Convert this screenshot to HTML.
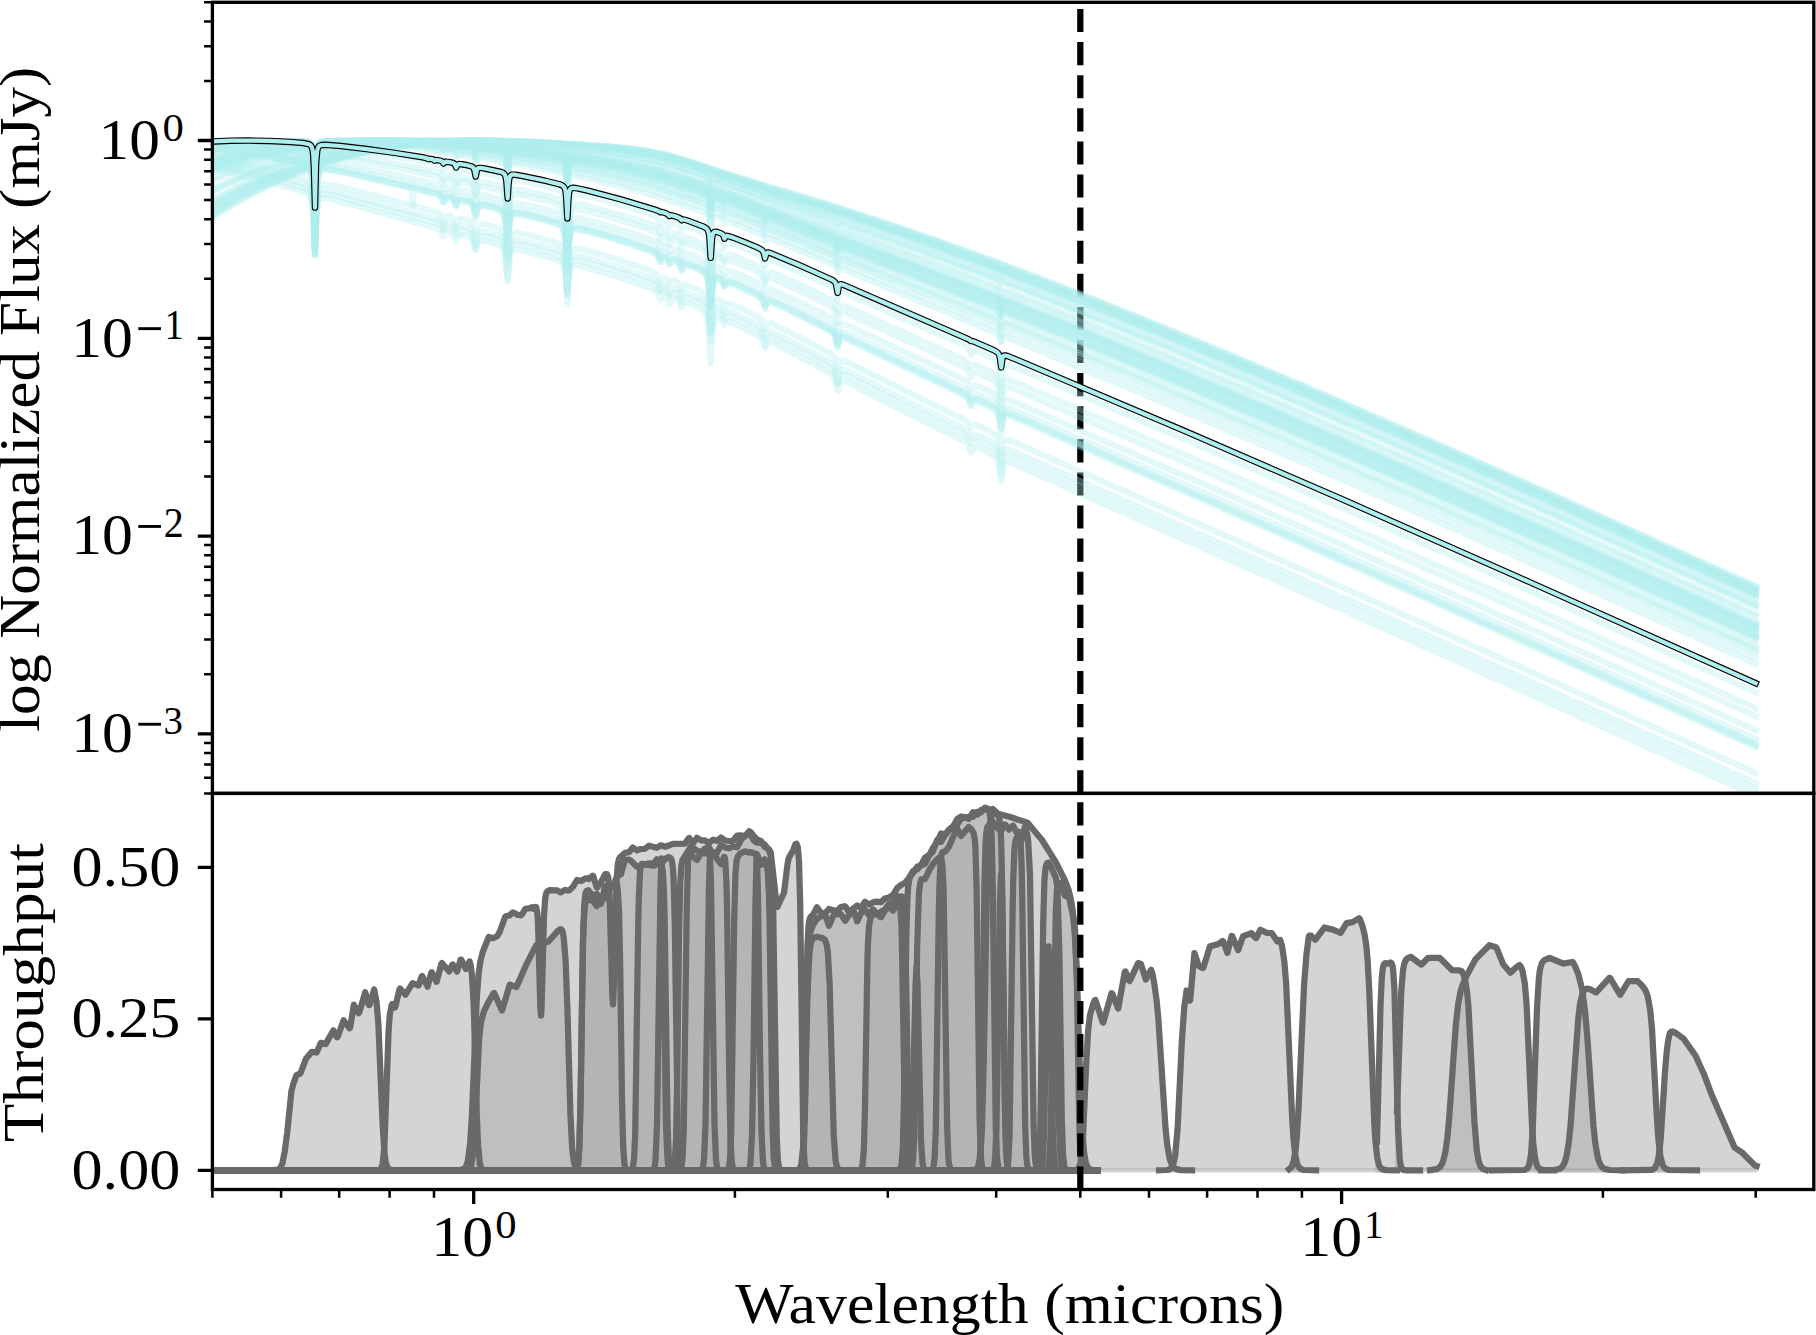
<!DOCTYPE html>
<html><head><meta charset="utf-8"><style>html,body{margin:0;padding:0;background:#fff;width:1816px;height:1335px;overflow:hidden}svg{display:block}</style></head><body>
<svg width="1816" height="1335" viewBox="0 0 1816 1335">
<rect width="1816" height="1335" fill="#fff"/>
<defs><clipPath id="ct"><rect x="212.4" y="2.3" width="1601.4" height="791.1"/></clipPath>
<clipPath id="cb"><rect x="212.4" y="793.4" width="1601.4" height="396.1"/></clipPath></defs>
<g clip-path="url(#ct)">
<path d="M1080.3 793.4V2.3" stroke="#000" stroke-width="6.25" stroke-dasharray="23.1 10" fill="none"/>
<g fill="none" stroke="#afeeee" stroke-opacity="0.35" stroke-width="6.25" stroke-linecap="square" stroke-linejoin="round">
<path d="M181.0 240.2 196.6 228.6 212.2 217.9 227.8 208.0 243.5 199.0 260.8 189.9 278.2 181.7 297.3 173.8 308.0 170.4 310.1 170.4 311.4 171.2 312.1 172.5 312.9 175.7 313.7 184.4 315.0 221.5 315.8 192.2 316.6 177.2 317.6 170.8 319.4 167.4 321.8 165.7 325.7 164.0 342.4 158.7 363.2 153.5 384.1 149.2 411.1 145.1 438.9 142.3 467.4 140.8 498.5 140.6 542.0 142.1 563.8 143.3 567.4 144.1 569.0 143.7 572.4 143.7 608.0 146.0 637.5 149.1 662.3 153.4 683.6 159.2 706.1 166.6 710.7 168.5 713.6 169.2 738.9 177.3 827.8 203.8 894.4 225.4 941.3 241.6 989.2 259.0 1041.9 278.8 1097.5 300.5 1160.0 325.6 1227.7 353.5 1298.9 383.5 1377.0 417.1 1550.6 493.6 1755.7 586.0"/>
<path d="M181.0 238.4 196.6 226.9 214.0 215.2 229.6 205.5 246.9 195.8 264.3 187.0 283.4 178.4 301.2 171.5 306.2 170.1 309.0 169.8 310.8 170.7 311.9 172.5 313.2 180.6 314.0 199.6 315.0 253.9 316.4 184.1 317.3 173.1 318.1 169.9 319.2 167.6 321.0 165.7 323.9 164.1 337.2 159.6 359.8 153.7 384.1 148.8 411.1 144.8 438.7 142.1 467.2 140.8 498.5 140.7 505.3 140.9 507.7 141.3 513.6 141.1 543.8 142.3 563.8 143.5 567.4 144.1 572.9 144.0 608.0 146.3 637.5 149.4 662.5 153.9 684.4 159.8 706.1 167.0 710.7 169.0 713.6 169.6 740.9 178.5 829.1 204.9 896.1 226.8 943.0 243.1 991.0 260.5 1043.7 280.4 1099.2 302.1 1161.7 327.2 1229.4 355.2 1300.6 385.2 1377.0 418.1 1550.6 494.6 1755.7 587.0"/>
<path d="M181.0 236.5 196.6 225.2 212.2 214.7 227.8 205.1 243.5 196.3 260.8 187.5 278.2 179.6 295.5 172.6 307.5 168.6 309.8 168.4 311.2 168.9 312.1 170.1 312.9 172.6 313.7 179.6 315.0 207.7 316.6 173.7 317.6 168.4 318.4 166.7 319.7 165.3 322.3 163.7 326.5 162.1 344.1 157.0 363.2 152.4 384.1 148.4 411.1 144.5 438.9 141.9 467.4 140.7 498.8 140.7 505.3 140.9 507.7 141.4 513.4 141.1 545.5 142.6 564.1 143.7 567.4 144.4 569.3 144.0 572.9 144.2 608.0 146.5 637.5 149.8 662.8 154.4 674.0 157.2 686.1 160.8 706.9 167.7 710.7 169.6 713.9 170.1 765.1 186.6 828.5 205.5 896.1 227.6 941.3 243.3 990.3 261.1 1001.2 265.6 1006.1 267.0 1043.7 281.3 1099.2 303.0 1161.7 328.2 1229.4 356.1 1300.6 386.2 1377.0 419.1 1550.6 495.6 1755.7 588.0"/>
<path d="M181.0 234.7 196.6 223.5 212.2 213.2 227.8 203.7 243.5 195.0 260.8 186.3 278.2 178.5 295.5 171.6 307.7 167.8 309.8 167.7 311.4 168.3 312.1 169.5 312.9 172.3 313.7 179.9 315.0 210.7 316.6 173.5 317.6 167.9 318.4 166.1 319.7 164.6 322.3 163.0 326.5 161.4 344.1 156.3 363.2 151.9 384.1 148.0 411.1 144.2 438.9 141.8 467.6 140.6 498.8 140.8 505.3 141.0 507.7 141.6 509.5 141.2 512.9 141.2 545.5 142.7 564.1 143.9 567.4 144.7 569.0 144.3 572.4 144.3 608.0 146.8 637.5 150.2 662.8 154.8 674.5 157.7 687.0 161.5 706.9 168.1 710.7 170.0 713.7 170.5 765.1 187.1 830.1 206.7 897.9 229.0 943.0 244.7 991.3 262.4 1001.2 266.4 1006.1 267.9 1043.7 282.2 1101.0 304.6 1163.5 329.8 1231.2 357.8 1302.3 387.9 1378.7 420.8 1550.6 496.6 1755.7 589.0"/>
<path d="M181.0 232.8 196.6 221.8 212.2 211.6 227.8 202.3 245.2 192.9 262.6 184.4 281.6 176.1 299.6 169.3 305.1 167.7 308.5 167.1 310.3 167.4 311.6 168.6 312.7 171.9 313.2 175.8 314.0 190.8 315.0 229.3 316.4 178.4 317.3 169.4 318.1 166.7 319.4 164.5 321.5 162.8 325.0 161.3 340.7 156.6 361.5 151.8 384.1 147.6 411.1 143.9 438.7 141.6 467.2 140.6 498.8 140.8 505.3 141.1 507.7 141.8 509.2 141.3 512.5 141.3 545.5 142.9 564.1 144.1 567.4 144.8 569.0 144.5 572.4 144.5 606.3 147.0 635.8 150.3 649.8 152.6 663.1 155.3 675.1 158.3 688.1 162.2 707.1 168.6 710.7 170.4 713.7 170.9 765.1 187.7 831.4 207.9 899.6 230.4 944.7 246.2 992.3 263.6 1045.4 283.8 1101.0 305.5 1163.5 330.8 1231.2 358.8 1302.3 388.9 1378.7 421.8 1550.6 497.6 1755.7 590.0"/>
<path d="M181.0 231.1 196.6 220.1 212.2 210.1 227.8 200.9 245.2 191.6 262.6 183.3 279.9 175.8 298.3 168.9 308.2 166.2 310.3 166.3 311.6 167.4 312.7 170.2 313.2 173.6 314.0 186.3 315.0 217.5 315.8 188.3 316.6 173.3 317.6 166.9 319.4 163.5 321.6 162.0 325.2 160.5 340.7 156.0 361.5 151.2 384.1 147.2 411.1 143.7 438.8 141.5 467.1 140.6 498.6 140.9 505.3 141.2 507.7 142.2 509.0 141.5 511.0 141.4 529.9 142.2 563.3 144.2 565.6 144.6 567.4 145.6 569.0 144.8 571.9 144.8 606.3 147.3 635.8 150.7 649.8 153.0 663.4 155.8 675.6 158.9 689.1 163.0 707.2 169.1 710.7 171.0 713.9 171.4 765.1 188.5 770.3 189.8 831.1 208.5 901.3 231.8 946.5 247.7 992.6 264.6 1001.2 268.2 1006.4 269.8 1045.4 284.7 1102.7 307.2 1165.2 332.4 1232.9 360.5 1304.1 390.6 1380.4 423.5 1552.3 499.3 1755.7 591.0"/>
<path d="M181.0 229.3 196.6 218.5 212.2 208.6 227.8 199.5 245.2 190.4 262.6 182.1 279.9 174.8 298.3 168.0 308.2 165.4 310.3 165.6 311.6 166.6 312.7 169.4 313.2 172.8 314.0 185.6 315.0 216.7 315.8 187.5 316.6 172.5 317.6 166.2 319.4 162.8 321.6 161.3 325.2 159.8 340.7 155.4 361.5 150.8 384.1 146.8 411.1 143.4 438.8 141.4 467.1 140.6 475.7 140.9 479.9 140.6 499.1 141.0 505.3 141.3 507.7 142.2 509.5 141.5 513.9 141.6 560.7 144.2 565.4 144.7 567.4 145.9 569.0 145.0 571.9 145.0 606.3 147.6 637.5 151.4 663.6 156.3 676.1 159.5 690.2 163.8 707.4 169.6 709.3 170.5 710.7 171.9 712.3 171.5 714.7 172.1 765.1 189.0 824.1 207.1 834.8 210.5 837.7 211.9 840.0 212.2 847.8 214.6 901.3 232.6 944.7 247.9 991.6 265.1 998.8 267.9 1001.2 269.4 1004.3 269.9 1021.1 276.2 1102.7 308.1 1165.2 333.4 1232.9 361.4 1304.1 391.6 1380.4 424.5 1552.3 500.3 1755.7 592.0"/>
<path d="M181.0 227.5 196.6 216.9 214.0 206.1 229.6 197.2 246.9 188.3 264.3 180.3 283.4 172.5 301.2 166.3 306.2 165.1 309.0 164.9 310.8 165.8 311.9 167.6 313.2 175.6 314.0 194.1 315.0 246.0 316.4 179.1 317.3 168.3 318.1 165.2 319.2 163.0 321.0 161.2 323.9 159.7 337.2 155.7 359.8 150.6 384.1 146.5 411.1 143.2 438.8 141.3 467.4 140.6 499.3 141.1 505.3 141.4 507.7 142.2 509.2 141.7 512.6 141.6 550.0 143.7 564.3 144.8 565.9 145.1 567.4 146.0 569.0 145.3 571.9 145.2 606.3 147.9 637.5 151.8 663.6 156.8 676.6 160.1 690.9 164.5 707.4 170.1 710.7 172.0 712.3 171.9 714.2 172.4 765.1 189.7 821.5 207.0 834.5 211.2 837.7 212.6 839.7 212.9 844.7 214.4 903.1 234.0 946.5 249.4 991.6 266.0 998.8 268.8 1001.2 270.4 1004.1 270.7 1017.1 275.6 1104.4 309.7 1166.9 335.0 1232.9 362.4 1304.1 392.6 1380.4 425.5 1552.3 501.3 1755.7 593.0"/>
<path d="M181.0 225.8 196.6 215.3 212.2 205.7 227.8 196.9 245.2 188.0 262.6 180.0 281.6 172.2 300.2 165.8 305.6 164.4 308.8 164.0 310.6 164.6 311.9 166.5 313.2 173.9 314.0 190.9 315.0 236.5 316.4 177.1 317.3 167.1 318.1 164.2 319.2 162.1 321.0 160.4 324.1 158.9 337.2 155.1 359.8 150.2 384.1 146.1 410.8 143.0 438.6 141.2 466.9 140.5 473.4 140.6 475.7 141.0 479.9 140.7 498.5 141.2 505.3 141.6 507.7 143.2 509.5 141.9 512.9 141.8 561.7 144.7 565.4 145.3 567.4 147.3 569.0 145.7 571.5 145.5 606.3 148.2 637.5 152.2 663.9 157.3 676.9 160.7 692.0 165.2 707.6 170.6 709.3 171.4 710.7 172.7 712.3 172.4 714.7 173.0 724.5 176.7 762.0 189.0 765.1 190.4 769.3 191.3 829.6 210.3 835.4 212.3 837.7 213.6 839.7 213.7 846.5 215.8 904.8 235.4 948.2 250.9 992.9 267.3 998.8 269.7 1001.2 271.0 1004.8 271.9 1028.1 280.7 1104.4 310.6 1166.9 336.0 1232.9 363.4 1304.1 393.6 1380.4 426.5 1552.3 502.3 1755.7 594.0"/>
<path d="M181.0 224.1 196.6 213.8 214.0 203.2 229.6 194.6 246.9 186.0 266.0 177.5 285.1 170.1 302.2 164.5 306.7 163.5 309.3 163.5 310.8 164.5 311.9 166.4 313.2 175.0 314.0 195.1 315.0 253.9 316.3 180.2 317.3 167.4 318.1 164.1 319.2 161.8 321.0 159.9 323.9 158.4 337.2 154.5 359.8 149.7 384.1 145.8 410.8 142.8 438.3 141.1 466.3 140.6 473.2 140.7 475.7 141.3 479.4 140.7 498.3 141.2 505.3 141.8 507.7 143.7 509.2 142.2 512.6 141.9 561.7 145.0 565.4 145.6 567.4 147.7 569.0 146.0 571.5 145.7 604.5 148.4 635.8 152.3 650.3 154.8 664.1 157.8 677.4 161.2 693.0 166.0 707.7 171.1 709.3 171.9 710.7 173.4 712.4 173.0 715.0 173.6 724.5 177.2 727.5 178.0 761.7 189.5 765.1 191.1 769.0 191.9 828.8 210.8 835.3 213.0 837.7 214.5 839.7 214.4 846.0 216.4 906.6 236.9 980.7 263.7 997.8 270.1 1001.2 272.1 1003.3 272.3 1009.5 274.5 1106.2 312.3 1168.7 337.6 1234.6 365.1 1305.8 395.3 1382.2 428.3 1552.3 503.3 1755.7 595.0"/>
<path d="M181.0 220.8 196.6 210.7 214.0 200.5 229.6 192.1 246.9 183.7 266.0 175.5 285.1 168.3 301.7 163.1 306.2 162.1 309.0 162.0 310.8 162.9 311.9 164.8 313.2 173.1 314.0 192.2 315.0 246.7 316.4 176.8 317.3 165.8 318.1 162.6 319.2 160.3 321.0 158.5 323.9 157.1 337.2 153.4 359.8 148.8 384.1 145.1 411.1 142.4 438.6 140.9 452.7 140.6 456.1 141.0 458.7 140.6 466.4 140.6 473.4 140.8 475.7 141.7 477.3 141.0 479.4 140.8 499.3 141.5 505.3 142.0 507.7 143.5 509.5 142.3 512.9 142.2 562.0 145.5 565.6 146.2 567.4 148.2 569.0 146.5 571.5 146.2 604.5 149.0 635.8 153.1 650.3 155.7 664.4 158.8 677.9 162.3 694.8 167.6 707.9 172.2 709.4 173.2 710.7 174.8 712.6 174.0 715.5 174.7 724.5 178.2 761.5 190.6 765.1 192.5 766.7 192.5 769.0 193.1 827.5 211.9 835.0 214.5 837.7 216.3 839.5 216.0 844.4 217.4 908.3 239.1 949.9 254.1 993.1 270.1 998.8 272.5 1001.2 274.6 1002.2 274.1 1003.5 274.2 1011.6 277.1 1107.9 314.8 1170.4 340.3 1236.4 367.7 1383.9 431.0 1554.0 506.1 1755.7 597.0"/>
<path d="M181.0 219.1 196.6 209.2 214.0 199.1 229.6 190.9 246.9 182.6 266.0 174.5 285.1 167.5 302.2 162.2 306.7 161.3 309.3 161.4 310.8 162.4 311.9 164.4 313.2 173.3 314.0 194.0 315.0 255.8 316.0 186.2 317.1 167.5 318.1 162.1 319.8 159.0 322.8 157.0 328.8 155.0 342.4 151.7 359.8 148.4 377.1 145.7 394.5 143.6 412.9 142.1 431.0 141.1 466.6 140.6 473.4 140.8 475.7 141.5 477.3 141.0 479.9 140.9 502.7 141.8 505.8 142.3 507.7 143.7 509.2 142.5 512.5 142.3 558.6 145.4 565.1 146.3 566.1 147.0 567.4 148.9 568.7 147.1 570.8 146.5 594.1 148.3 614.9 150.6 632.3 153.0 648.8 155.9 664.4 159.3 685.4 165.1 704.6 171.4 708.7 173.2 710.7 176.1 712.6 174.7 715.9 175.4 722.2 177.6 724.4 178.8 727.8 179.5 760.7 190.9 765.1 192.9 768.7 193.6 830.9 213.7 835.6 215.5 837.7 217.0 840.0 216.8 847.3 219.1 910.0 240.6 993.6 271.2 999.1 273.5 1001.2 275.5 1002.2 275.0 1003.5 275.1 1012.1 278.2 1107.9 315.8 1170.4 341.2 1236.4 368.7 1383.9 432.0 1554.0 507.1 1755.7 598.0"/>
<path d="M181.0 209.7 196.6 200.6 214.0 191.3 229.6 183.8 246.9 176.3 266.0 169.0 285.1 162.7 302.0 158.1 306.4 157.3 309.0 157.4 310.8 158.4 311.9 160.3 313.2 168.7 314.0 188.0 315.0 243.4 316.0 180.9 316.6 169.1 317.3 161.5 318.7 157.0 320.5 154.8 323.9 153.1 329.8 151.4 344.1 148.6 359.8 146.1 377.1 143.9 394.5 142.3 412.9 141.2 431.0 140.7 440.8 140.6 443.5 141.0 445.8 140.6 451.9 140.6 456.1 141.2 458.6 140.8 466.4 140.9 473.4 141.4 475.7 142.9 477.3 141.7 479.5 141.5 503.2 142.8 505.8 143.8 507.7 147.4 508.7 144.8 509.5 143.9 510.8 143.5 513.4 143.4 562.8 147.4 565.6 148.4 567.4 151.5 568.7 149.0 570.8 148.2 592.4 150.1 613.2 152.7 630.6 155.3 648.0 158.5 664.7 162.3 678.1 165.9 699.6 172.6 708.2 175.9 709.4 177.0 710.7 179.3 711.9 178.0 712.6 177.7 716.5 178.5 722.2 180.6 724.4 181.8 728.2 182.7 760.9 194.6 763.3 195.5 765.1 196.8 766.7 196.7 769.0 197.4 832.7 219.0 835.8 220.4 837.7 222.5 839.5 221.6 843.6 222.6 917.0 248.1 994.4 276.8 999.1 278.9 1001.2 280.9 1002.5 280.4 1003.8 280.6 1014.7 284.6 1113.1 323.5 1175.6 349.1 1241.6 376.7 1387.4 439.5 1555.8 513.9 1755.7 604.0"/>
<path d="M181.0 208.2 196.6 199.2 214.0 190.1 229.6 182.7 246.9 175.3 266.0 168.1 286.9 161.4 302.8 157.3 306.7 156.7 309.3 156.9 310.8 157.9 311.9 159.9 313.2 168.6 314.0 188.6 315.0 247.3 316.0 181.2 317.1 163.0 318.1 157.9 319.8 154.9 322.8 153.0 328.5 151.3 342.4 148.5 358.0 146.0 375.4 143.9 392.7 142.3 424.5 140.7 451.0 140.6 454.4 140.8 456.1 141.4 458.7 140.8 466.9 141.0 473.4 141.4 475.7 142.4 477.3 141.7 479.6 141.6 503.2 142.9 505.8 143.5 507.7 145.5 509.2 143.8 512.5 143.5 560.9 147.5 563.8 148.0 565.4 148.8 566.1 150.0 567.4 153.8 568.7 149.9 569.5 149.1 570.8 148.7 576.3 148.9 592.4 150.5 613.2 153.1 630.6 155.7 648.3 159.0 664.9 162.8 686.8 169.0 705.6 175.3 708.9 177.1 710.7 180.7 711.9 178.9 712.6 178.4 716.6 179.1 722.2 181.2 724.4 182.7 726.1 182.7 728.4 183.4 760.9 195.2 763.3 196.3 765.1 198.0 766.9 197.5 770.3 198.5 833.0 219.8 835.8 221.0 837.7 222.7 839.5 222.2 844.4 223.7 918.7 249.6 994.9 277.9 999.1 279.8 1001.2 282.1 1002.5 281.4 1003.8 281.5 1016.0 286.0 1114.9 325.2 1175.6 350.1 1241.6 377.7 1387.4 440.5 1555.8 514.9 1755.7 605.0"/>
<path d="M181.0 205.3 196.6 196.5 212.2 188.5 227.8 181.2 245.2 174.0 262.6 167.6 281.6 161.5 300.2 156.5 305.6 155.5 308.8 155.3 310.6 155.9 311.9 157.6 313.2 164.3 314.0 179.1 315.0 216.9 316.4 167.2 317.3 158.4 318.1 155.8 319.4 153.8 321.5 152.3 324.6 151.2 338.9 148.2 359.8 145.1 382.3 142.7 414.5 140.9 438.6 140.6 443.5 141.0 448.3 140.7 453.9 140.9 456.1 141.4 459.5 141.0 471.9 141.5 474.2 142.1 475.7 143.7 477.3 142.1 479.4 141.8 502.2 143.2 505.8 144.2 507.7 147.1 509.0 144.7 510.3 144.0 519.9 144.4 563.0 148.3 565.6 149.5 567.4 153.4 569.0 149.9 570.0 149.3 571.5 149.2 585.4 150.4 608.0 153.2 637.5 157.9 664.9 163.9 687.0 170.1 705.9 176.5 707.9 177.5 709.0 178.7 710.7 183.7 711.9 180.7 712.6 179.8 714.1 179.6 717.1 180.4 722.3 182.3 724.4 183.7 726.1 183.7 728.4 184.4 760.7 196.3 763.3 197.4 765.1 199.1 766.7 198.7 769.3 199.3 832.7 221.3 835.8 222.7 837.7 224.7 839.5 223.9 843.9 225.1 922.2 252.6 995.5 280.0 999.1 281.7 1001.2 284.4 1002.2 283.4 1003.3 283.2 1008.5 284.9 1059.3 304.8 1116.6 327.8 1177.3 352.7 1243.3 380.4 1389.1 443.2 1557.5 517.7 1755.7 607.0"/>
<path d="M181.0 195.7 196.6 187.7 212.2 180.6 227.8 174.1 245.2 167.7 262.6 162.0 281.6 156.7 300.4 152.5 305.6 151.7 308.8 151.6 310.6 152.3 311.9 154.1 313.2 160.9 314.0 175.8 315.0 213.9 316.4 163.9 317.3 155.1 318.1 152.6 319.2 150.8 321.0 149.4 323.6 148.4 335.5 146.2 358.0 143.4 380.6 141.6 413.7 140.6 431.3 140.7 434.7 141.1 439.1 140.9 443.5 141.4 448.8 141.2 454.0 141.5 456.1 142.5 457.5 141.8 459.3 141.7 472.1 142.5 474.2 143.2 475.7 145.1 476.8 143.7 478.1 143.0 486.7 143.3 500.1 144.4 504.5 145.2 506.1 146.4 507.7 150.6 509.0 146.8 510.5 145.7 514.2 145.6 524.7 146.5 553.1 149.3 563.3 150.7 565.6 152.0 567.4 156.8 568.5 153.4 569.8 151.8 572.1 151.6 577.9 152.1 602.8 155.3 625.3 158.9 645.9 163.0 665.2 167.6 669.6 169.2 671.9 169.5 678.2 171.2 681.8 172.8 687.8 174.1 705.9 180.3 709.0 182.2 710.7 186.2 711.9 184.0 712.8 183.3 717.5 184.3 722.5 186.3 724.4 187.8 726.1 187.7 728.7 188.4 760.4 200.3 763.3 201.7 765.1 203.5 766.7 203.0 769.3 203.7 832.7 226.6 835.8 228.1 837.7 230.4 839.5 229.3 843.6 230.5 930.9 261.8 996.0 286.5 999.4 288.5 1001.2 291.7 1002.2 290.2 1003.0 289.8 1008.0 291.1 1061.0 312.0 1121.8 336.5 1248.5 389.5 1392.6 451.7 1559.2 525.5 1755.7 614.0"/>
<path d="M181.0 193.1 196.6 185.4 214.0 177.7 229.6 171.5 246.9 165.4 266.0 159.6 285.1 154.7 302.0 151.2 306.4 150.7 309.0 151.0 310.8 152.1 311.9 154.0 313.2 162.3 314.0 180.9 315.0 233.5 316.0 174.2 316.6 162.8 317.3 155.5 318.4 151.7 320.2 149.3 323.1 147.9 328.3 146.7 340.7 144.8 358.0 143.0 375.4 141.7 392.7 140.9 423.8 140.6 432.2 140.8 434.5 141.3 440.2 141.1 443.5 141.8 445.8 141.3 451.9 141.5 454.6 141.9 456.1 142.9 458.6 142.0 466.7 142.3 473.4 143.1 474.3 143.6 475.7 145.3 477.3 143.6 479.4 143.3 503.5 145.3 505.8 146.6 507.7 151.3 509.2 147.0 510.3 146.3 512.1 146.1 535.1 148.0 561.2 151.0 564.1 151.7 565.4 152.8 566.1 154.4 567.4 159.8 568.7 154.2 569.5 153.0 570.6 152.5 575.0 152.5 588.9 154.2 609.7 157.2 628.8 160.5 647.5 164.4 665.2 168.7 669.4 170.3 673.5 171.0 679.4 172.8 681.8 173.8 689.1 175.7 706.4 181.8 708.1 183.0 709.2 184.6 710.7 191.5 711.9 186.7 712.9 185.0 714.9 184.8 719.3 186.2 722.7 187.6 724.4 189.2 726.1 188.9 728.7 189.6 760.7 201.7 763.3 203.1 765.1 205.7 766.7 204.4 769.4 205.0 832.4 228.1 835.8 230.0 837.7 233.3 838.7 231.6 839.5 231.2 844.2 232.2 903.1 253.3 958.8 274.0 997.0 288.8 999.4 290.4 1001.2 293.9 1002.2 292.1 1003.0 291.7 1008.0 293.0 1061.0 313.9 1123.5 339.2 1250.2 392.2 1394.3 454.5 1559.2 527.5 1755.7 616.0"/>
<path d="M181.0 185.8 196.6 178.8 214.0 171.8 231.3 165.7 248.7 160.3 269.5 154.8 288.6 150.7 303.5 148.4 307.2 148.3 309.4 148.8 311.1 150.4 312.1 153.3 312.9 158.3 313.4 166.5 315.0 253.2 315.8 188.3 316.8 158.9 317.6 152.8 318.9 148.9 321.0 146.8 324.9 145.4 335.5 143.8 352.8 142.2 370.2 141.2 389.3 140.6 413.6 140.7 438.4 141.6 441.7 141.9 443.5 142.4 446.1 142.0 453.1 142.5 454.8 142.9 456.1 143.9 458.6 142.9 466.7 143.3 473.4 144.2 475.7 146.1 477.3 144.7 479.4 144.5 503.5 146.8 505.8 148.1 507.7 152.8 509.2 148.5 510.3 147.8 512.1 147.6 533.3 149.7 560.9 153.1 563.8 153.7 565.4 154.6 566.1 155.9 567.4 160.0 568.7 155.9 570.3 154.7 574.5 154.8 587.2 156.5 608.0 159.7 628.8 163.6 647.5 167.6 665.1 172.1 669.6 173.9 671.9 174.0 678.4 175.9 681.8 177.5 683.9 177.6 688.6 179.0 706.1 185.1 708.0 186.1 709.0 187.2 710.7 192.5 711.9 189.3 712.8 188.2 714.5 188.1 718.0 189.2 722.5 191.0 724.4 192.9 726.1 192.4 728.7 193.1 760.4 205.3 763.3 206.9 765.1 209.6 766.7 208.2 769.5 208.8 832.4 232.6 835.8 234.3 837.7 236.9 838.7 235.8 839.5 235.6 843.4 236.6 941.3 272.8 996.5 294.2 999.4 296.3 1001.2 301.3 1002.2 298.4 1003.0 297.5 1004.6 297.5 1007.7 298.4 1062.8 320.2 1130.5 347.8 1255.5 400.3 1397.8 462.0 1562.7 535.1 1755.7 622.0"/>
<path d="M181.0 184.6 196.6 177.7 214.0 170.9 229.6 165.4 246.9 160.1 266.0 155.1 285.1 150.9 302.0 148.1 306.4 147.7 309.0 147.9 310.8 148.9 311.9 150.7 313.2 157.9 314.0 173.9 315.0 215.7 316.4 161.3 317.3 152.0 318.1 149.4 319.2 147.6 321.0 146.2 323.6 145.3 335.5 143.5 358.0 141.7 380.6 140.7 409.3 140.7 424.5 141.1 428.2 141.6 431.4 141.4 434.7 141.9 438.4 141.7 441.7 142.0 443.5 142.8 446.1 142.2 453.1 142.7 454.8 143.3 456.1 144.6 457.4 143.5 458.5 143.2 464.8 143.4 473.2 144.5 474.3 145.4 475.7 148.0 477.0 145.5 478.6 144.8 492.1 145.7 501.4 146.7 504.8 147.5 506.1 148.7 507.7 152.9 509.0 149.1 509.7 148.3 510.8 148.0 515.7 148.1 531.6 149.8 556.2 152.8 563.5 154.1 565.1 155.1 565.9 156.4 567.4 162.8 568.5 157.8 569.5 155.7 571.3 155.1 574.7 155.2 597.6 158.5 621.9 162.7 644.4 167.4 665.4 172.7 669.4 174.3 673.3 174.9 679.4 176.8 681.8 177.9 688.8 179.7 706.1 185.7 708.0 186.8 709.0 188.0 710.7 194.2 712.1 189.7 712.8 189.0 713.9 188.7 716.8 189.4 721.7 191.2 723.1 192.1 724.5 193.7 726.4 193.1 731.3 194.6 761.2 206.2 763.5 207.5 765.1 209.3 766.7 208.6 769.4 209.4 832.4 233.4 835.8 235.3 837.7 238.7 838.7 237.0 839.5 236.6 842.9 237.2 930.9 269.7 996.0 294.8 999.4 296.6 1001.2 299.6 1002.2 298.3 1003.3 298.0 1008.5 299.6 1066.3 322.5 1132.2 349.5 1257.2 402.0 1399.5 463.7 1562.7 536.1 1755.7 623.0"/>
<path d="M181.0 182.4 196.6 175.7 214.0 169.1 229.6 163.9 246.9 158.7 266.0 153.9 285.1 150.0 302.0 147.3 306.4 147.0 309.0 147.3 310.8 148.4 311.9 150.2 313.2 158.0 314.0 175.2 315.0 221.5 316.0 169.0 316.6 158.5 317.3 151.8 318.4 148.3 320.2 146.1 323.3 144.8 328.8 143.8 344.1 142.3 361.5 141.2 380.6 140.6 399.7 140.6 423.3 141.2 428.2 141.7 432.2 141.7 434.7 142.2 438.4 142.0 441.7 142.3 443.5 142.9 445.6 142.5 450.0 142.7 454.2 143.3 456.1 145.0 457.5 143.8 458.8 143.5 469.0 144.2 473.6 145.2 475.7 148.5 476.8 146.4 478.1 145.4 485.6 145.6 499.8 147.1 504.3 148.2 505.3 149.0 506.1 150.5 507.7 158.2 508.7 152.1 510.0 149.3 512.5 148.7 519.1 149.1 549.0 152.6 563.0 154.7 564.6 155.3 565.6 156.3 567.4 162.0 568.5 157.9 569.5 156.3 571.5 155.8 575.8 156.2 599.3 159.7 623.6 164.1 645.1 168.7 665.6 174.0 669.6 175.4 671.9 175.8 678.4 177.7 681.8 179.3 683.9 179.4 689.4 181.0 706.1 186.9 708.0 188.0 709.0 189.2 710.7 195.5 712.1 190.9 712.8 190.2 713.9 190.0 721.4 192.3 724.5 194.4 726.4 194.2 730.8 195.7 761.2 207.5 763.5 209.0 765.1 211.3 766.7 210.1 769.5 210.7 832.2 234.8 834.5 236.0 835.8 237.1 837.7 241.2 839.2 238.4 840.3 238.2 842.3 238.7 911.8 264.3 995.5 296.4 999.1 298.4 1001.2 302.3 1002.2 300.5 1003.3 299.9 1008.2 301.4 1066.3 324.4 1133.9 352.1 1258.9 404.8 1401.3 466.5 1564.4 538.9 1755.7 625.0"/>
<path d="M181.0 181.3 196.6 174.7 214.0 168.2 229.6 163.1 246.9 158.1 264.3 153.8 283.4 149.8 300.9 147.0 305.9 146.6 308.8 146.8 310.6 147.6 311.9 149.5 313.2 156.6 314.0 172.1 315.0 212.0 316.4 159.9 317.3 150.9 318.1 148.3 319.4 146.3 321.3 145.2 324.4 144.3 337.2 142.7 359.8 141.2 384.1 140.6 411.1 140.9 424.9 141.4 428.2 141.9 431.5 141.8 434.7 142.4 438.4 142.2 441.7 142.5 443.5 143.4 445.1 142.8 447.4 142.7 453.9 143.3 456.1 144.4 457.5 143.7 459.1 143.6 471.3 144.6 473.9 145.3 475.7 147.2 477.0 145.8 479.1 145.4 499.6 147.4 503.5 148.1 505.3 149.1 506.4 151.3 507.7 157.1 509.2 150.4 510.0 149.5 511.6 149.0 519.5 149.4 545.5 152.5 559.6 154.4 564.1 155.6 565.1 156.4 565.9 157.8 567.4 164.8 568.5 159.3 569.5 157.1 571.3 156.3 575.5 156.6 601.0 160.4 627.1 165.3 656.0 172.0 666.7 174.9 669.6 176.4 671.2 176.3 674.2 177.0 679.5 178.6 681.8 179.9 684.7 180.2 696.4 184.0 706.9 188.1 708.2 189.2 709.2 191.1 710.7 199.7 711.9 193.5 712.9 191.3 715.0 190.9 719.8 192.3 722.7 193.5 724.4 194.9 726.2 194.8 729.2 195.7 760.7 208.0 763.3 209.6 765.1 212.8 766.1 211.3 766.9 210.9 770.6 211.8 833.0 235.9 835.8 237.4 837.7 240.1 838.7 239.0 839.5 238.7 843.1 239.6 946.5 278.3 996.5 297.8 999.4 299.8 1001.2 304.0 1002.2 301.7 1003.3 301.0 1008.2 302.3 1069.7 326.8 1142.6 356.7 1265.9 408.7 1406.5 469.8 1567.9 541.4 1755.7 626.0"/>
<path d="M181.0 180.2 196.6 173.8 214.0 167.4 229.6 162.3 246.9 157.4 266.0 152.8 285.1 149.1 302.0 146.6 306.4 146.3 309.0 146.6 310.8 147.8 311.9 149.6 313.2 157.4 314.0 174.8 315.0 221.9 316.0 168.7 316.6 158.1 317.3 151.3 318.4 147.8 320.2 145.6 323.3 144.3 329.1 143.3 344.1 142.0 363.2 141.0 382.3 140.6 401.4 140.7 424.4 141.5 428.2 142.0 432.2 142.0 434.7 142.6 438.8 142.3 441.8 142.6 443.5 143.4 445.4 142.9 449.3 143.0 454.2 143.6 456.1 144.6 458.8 143.8 468.9 144.6 473.6 145.6 475.7 148.6 477.0 146.4 478.3 145.8 488.7 146.4 500.6 147.8 504.5 148.6 506.1 150.1 507.7 155.1 509.2 150.2 510.3 149.4 511.8 149.1 523.5 150.2 552.9 153.8 561.5 155.1 564.6 156.1 565.9 157.6 567.4 163.2 568.5 158.9 569.8 157.0 572.1 156.7 577.3 157.2 604.5 161.5 628.8 166.2 651.4 171.4 666.0 175.2 669.6 176.6 673.7 177.4 679.5 179.2 681.8 180.3 684.7 180.8 694.3 183.9 706.7 188.4 708.2 189.5 709.2 191.0 710.7 197.4 712.1 192.4 712.8 191.5 713.9 191.2 716.6 191.8 721.5 193.6 723.1 194.4 724.5 195.9 726.4 195.5 731.3 197.1 761.2 208.8 763.5 210.5 765.1 213.3 766.1 211.9 766.9 211.5 770.6 212.4 833.0 236.6 835.8 238.3 837.7 241.5 838.7 240.0 839.5 239.6 843.1 240.4 948.2 279.9 996.5 298.7 999.4 300.5 1001.2 304.1 1002.2 302.3 1003.3 301.8 1008.5 303.3 1071.5 328.4 1142.6 357.6 1265.9 409.7 1406.5 470.8 1567.9 542.4 1755.7 627.0"/>
<path d="M181.0 179.1 196.6 172.8 214.0 166.5 229.6 161.6 246.9 156.8 266.0 152.3 285.1 148.6 302.0 146.2 306.4 146.0 309.0 146.3 310.8 147.5 311.9 149.4 313.2 157.2 314.0 174.7 315.0 222.3 316.0 168.5 316.6 157.9 317.3 151.0 318.4 147.5 320.2 145.3 323.3 144.1 328.8 143.1 344.1 141.8 363.2 140.9 382.3 140.6 401.4 140.7 423.8 141.6 432.2 142.1 434.7 142.6 438.4 142.4 441.7 142.8 443.5 143.4 445.6 143.0 450.3 143.3 454.3 143.9 456.1 145.5 457.5 144.4 458.8 144.1 469.1 144.9 473.6 145.9 475.7 149.0 477.0 146.6 478.3 146.0 489.0 146.7 500.6 148.0 504.5 148.9 506.1 150.4 507.7 155.3 509.2 150.5 510.3 149.7 512.1 149.5 538.6 152.3 562.0 155.7 564.3 156.6 565.6 158.2 567.4 166.5 568.5 160.4 569.5 158.0 571.3 157.2 575.0 157.4 601.0 161.4 627.1 166.4 650.6 171.8 657.9 173.7 660.4 174.7 666.0 175.8 669.6 177.3 673.7 178.0 679.5 179.8 681.8 181.2 684.4 181.3 694.8 184.6 706.7 189.1 708.2 190.3 709.2 191.8 710.7 199.0 712.1 193.3 712.8 192.3 713.9 191.9 716.6 192.4 721.5 194.2 723.1 195.1 724.5 196.7 726.4 196.2 731.2 197.7 761.2 209.5 763.5 211.2 765.1 214.2 766.7 212.3 769.8 212.8 832.4 237.2 835.8 239.2 837.7 242.6 838.7 240.9 839.5 240.4 844.2 241.6 932.6 274.8 992.1 297.8 996.8 299.8 998.8 301.2 999.9 302.9 1001.2 306.9 1002.2 304.0 1003.0 303.1 1004.6 303.0 1008.0 304.1 1069.7 328.7 1144.4 359.3 1267.6 411.4 1406.5 471.8 1567.9 543.4 1755.7 628.0"/>
<path d="M181.0 178.1 196.6 171.9 214.0 165.7 231.3 160.3 248.7 155.7 269.5 151.1 290.3 147.4 304.1 145.8 307.5 145.9 309.5 146.6 311.1 148.2 312.1 151.1 312.9 156.3 313.4 164.7 315.0 255.1 315.8 187.2 316.8 157.1 317.6 150.9 318.9 147.0 321.0 144.9 324.6 143.6 337.2 142.2 356.3 141.1 375.4 140.6 396.2 140.7 423.6 141.7 432.2 142.3 434.7 142.9 438.7 142.7 441.8 143.1 443.5 144.0 445.6 143.3 450.0 143.5 454.2 144.1 456.1 145.7 457.4 144.6 458.7 144.3 468.2 145.0 473.4 145.9 474.4 146.8 475.7 149.0 476.8 147.1 478.1 146.3 486.9 146.8 500.4 148.3 504.5 149.3 506.1 151.0 507.7 156.7 509.2 151.0 510.0 150.2 511.6 149.8 520.2 150.5 547.2 153.8 560.2 155.7 564.3 156.8 565.9 158.5 567.4 164.0 568.5 159.7 569.8 157.9 571.9 157.5 577.1 158.1 602.8 162.2 628.8 167.3 651.6 172.6 666.0 176.4 669.6 177.9 673.7 178.6 679.5 180.4 681.8 181.8 684.4 181.9 694.6 185.2 706.7 189.7 708.2 190.8 709.2 192.2 710.7 198.7 712.1 193.6 712.8 192.8 713.9 192.5 716.6 193.0 721.4 194.8 723.0 195.6 724.5 197.0 726.4 196.7 731.6 198.4 761.2 210.1 763.5 211.5 765.1 213.5 766.7 212.6 769.8 213.4 832.2 237.9 834.5 239.0 835.8 240.2 837.7 244.6 839.2 241.6 840.3 241.3 842.3 241.8 906.6 265.8 995.5 300.1 999.1 302.4 1001.2 307.9 1002.2 304.9 1003.0 304.0 1004.6 303.9 1008.0 305.0 1069.7 329.6 1146.1 361.0 1269.3 413.2 1408.2 473.6 1567.9 544.4 1755.7 629.0"/>
<path d="M181.0 176.0 196.6 170.0 214.0 164.1 229.6 159.4 246.9 154.9 266.0 150.8 285.1 147.4 302.0 145.3 306.4 145.1 309.0 145.4 310.8 146.6 311.9 148.4 313.2 156.1 314.0 173.2 315.0 218.9 316.0 167.2 316.6 156.8 317.3 150.1 318.4 146.7 320.2 144.6 323.3 143.4 328.8 142.5 344.1 141.4 363.2 140.7 382.3 140.6 401.4 141.0 424.0 142.0 432.2 142.6 434.7 143.1 438.8 143.0 441.8 143.4 443.5 144.3 445.6 143.6 450.0 143.9 454.2 144.4 456.1 145.6 457.5 144.9 458.8 144.7 469.3 145.6 473.6 146.6 475.7 149.8 477.0 147.4 478.3 146.8 490.0 147.7 500.9 149.0 504.5 149.9 506.1 151.6 507.7 157.2 509.2 151.6 510.3 150.7 512.1 150.5 542.0 153.9 556.5 156.0 562.2 157.1 564.3 158.2 565.6 160.4 567.4 172.6 568.5 163.5 569.3 160.5 570.8 158.9 574.0 158.7 597.6 162.3 625.3 167.6 650.1 173.4 657.9 175.5 660.4 176.5 666.2 177.7 669.6 179.3 671.2 179.3 674.3 180.0 679.5 181.7 681.8 182.8 684.9 183.3 697.3 187.4 703.8 189.8 706.9 191.3 708.2 192.6 709.2 194.8 710.7 205.5 711.9 197.7 712.9 194.8 713.7 194.2 715.0 194.1 719.7 195.4 722.7 196.7 724.4 198.5 726.2 198.0 729.0 198.8 760.4 211.0 763.3 212.7 765.1 215.4 766.7 214.1 769.8 214.8 831.9 239.2 835.6 241.0 837.7 244.0 838.7 242.9 839.5 242.6 843.9 243.8 937.8 279.5 992.1 300.6 996.8 302.6 998.8 303.9 999.9 305.5 1001.2 309.3 1002.2 306.6 1003.3 305.7 1004.8 305.8 1008.2 307.0 1071.5 332.2 1147.8 363.7 1271.1 415.9 1409.9 476.3 1569.6 547.2 1755.7 631.0"/>
<path d="M181.0 175.0 196.6 169.1 214.0 163.3 231.3 158.3 248.7 153.9 269.5 149.6 288.6 146.5 303.3 144.9 306.9 144.9 309.3 145.4 310.8 146.6 311.9 148.6 313.2 157.1 314.0 176.2 315.0 230.4 316.0 169.5 317.1 152.3 318.1 147.5 319.4 145.2 322.0 143.6 326.5 142.7 338.9 141.6 358.0 140.8 377.1 140.6 398.0 140.9 423.7 142.1 432.2 142.7 434.7 143.4 438.6 143.2 441.7 143.5 443.5 144.2 445.4 143.8 449.6 144.0 454.2 144.6 456.1 146.0 457.4 145.2 458.7 145.0 468.0 145.7 473.4 146.6 474.4 147.3 475.7 149.2 477.0 147.4 478.3 147.0 488.7 147.8 500.6 149.3 504.5 150.3 506.1 152.2 507.7 158.6 509.0 152.6 510.0 151.3 511.3 150.9 517.6 151.2 538.6 153.8 557.8 156.5 563.8 157.8 565.1 158.7 565.9 159.9 567.4 165.8 568.5 161.2 569.5 159.4 571.6 158.8 576.6 159.3 602.8 163.7 627.1 168.5 650.9 174.2 666.2 178.3 669.6 179.8 671.2 179.8 674.2 180.6 679.5 182.3 681.8 183.5 684.9 183.9 696.7 187.8 706.9 191.8 708.2 193.0 709.2 194.8 710.7 203.6 712.1 196.4 712.8 195.1 713.9 194.6 716.6 195.0 721.5 196.8 723.1 197.7 724.5 199.4 726.4 198.7 731.0 200.2 761.2 212.1 763.5 213.8 765.1 217.0 766.7 214.9 769.8 215.4 832.2 240.1 834.5 241.3 835.8 242.4 837.7 246.7 838.7 244.4 839.5 243.7 841.0 243.7 843.9 244.6 939.5 281.0 967.1 291.7 971.0 293.6 974.4 294.6 992.9 301.8 997.0 303.7 998.8 305.1 999.9 307.0 1001.2 311.9 1002.2 308.2 1003.0 307.1 1004.6 306.8 1008.0 307.8 1071.5 333.2 1149.6 365.4 1271.1 416.9 1409.9 477.3 1569.6 548.2 1755.7 632.0"/>
<path d="M181.0 173.1 196.6 167.4 214.0 161.8 231.3 157.0 248.7 152.8 269.5 148.8 288.6 145.8 303.3 144.3 306.9 144.3 309.3 144.8 310.8 146.0 311.9 147.9 313.2 156.1 314.0 174.3 315.0 224.5 316.0 167.9 317.1 151.5 318.1 146.9 319.7 144.4 322.3 143.1 327.0 142.2 340.7 141.2 359.8 140.6 378.9 140.6 399.7 141.2 431.0 143.0 434.7 143.9 436.2 143.5 439.1 143.6 441.8 144.0 443.5 144.7 445.6 144.2 450.6 144.6 454.3 145.3 456.1 147.1 457.5 145.8 458.8 145.5 469.5 146.4 473.6 147.5 475.7 151.4 477.0 148.5 478.3 147.7 481.7 147.7 490.8 148.7 501.4 150.0 504.8 150.9 506.1 152.3 507.7 157.3 509.2 152.4 510.3 151.6 512.3 151.4 543.8 155.3 562.2 158.4 564.3 159.5 565.6 161.7 567.4 173.9 568.5 164.8 569.3 161.8 570.8 160.2 574.0 160.0 597.6 163.8 625.3 169.3 655.0 176.4 660.4 178.3 666.7 179.7 669.6 181.2 671.2 181.1 674.5 182.0 679.7 183.7 681.8 185.0 684.9 185.2 697.4 189.3 703.8 191.7 706.9 193.2 708.2 194.5 709.2 196.7 710.7 207.2 712.1 198.3 712.8 196.7 713.7 196.1 716.0 196.2 720.8 197.7 722.8 198.7 724.5 200.4 726.4 199.9 730.3 201.2 761.2 213.4 763.5 215.1 765.1 218.0 766.7 216.2 769.8 216.8 832.2 241.6 834.5 242.8 835.8 243.9 837.7 248.0 838.7 245.8 839.5 245.2 841.0 245.3 843.9 246.2 943.0 284.2 967.3 293.6 971.0 295.5 974.4 296.4 992.9 303.7 997.0 305.6 998.8 307.0 999.9 308.9 1001.2 313.8 1002.2 310.1 1003.0 308.9 1004.6 308.7 1008.0 309.7 1073.2 335.8 1153.0 368.8 1274.6 420.4 1413.4 480.9 1571.4 551.0 1755.7 634.0"/>
<path d="M181.0 171.2 196.6 165.7 214.0 160.4 231.3 155.7 248.7 151.8 269.5 147.9 290.3 145.0 304.1 143.9 307.5 144.0 309.5 144.7 311.1 146.3 312.1 149.2 312.9 154.3 313.4 162.4 315.0 247.0 315.8 183.9 316.8 155.1 317.6 149.1 318.9 145.4 321.0 143.4 324.6 142.3 335.5 141.3 354.6 140.6 375.4 140.6 396.2 141.2 424.0 142.8 428.2 143.5 432.2 143.5 434.7 144.3 436.2 143.9 438.9 144.0 441.8 144.5 443.5 145.6 445.6 144.8 450.6 145.1 454.3 145.8 456.1 147.6 457.5 146.3 458.8 146.0 468.7 146.9 473.6 147.9 475.7 150.9 477.0 148.7 478.3 148.2 489.5 149.1 500.6 150.5 504.5 151.5 506.1 153.1 507.7 158.2 509.2 153.1 510.3 152.3 511.8 152.1 522.9 153.3 550.8 157.2 561.1 158.9 564.6 160.1 565.9 162.1 567.4 169.1 568.5 163.6 569.5 161.4 571.3 160.7 575.3 161.0 601.0 165.4 627.1 170.8 650.9 176.5 660.4 179.5 666.2 180.8 669.6 182.3 674.0 183.1 679.5 184.8 681.8 186.3 684.7 186.4 697.0 190.4 706.9 194.5 708.2 195.6 709.2 197.6 710.7 207.0 712.1 199.2 712.8 197.8 713.9 197.2 716.6 197.6 721.5 199.4 723.1 200.4 724.5 202.3 725.6 201.5 726.4 201.4 731.6 203.0 761.2 214.7 763.5 216.5 765.1 219.7 766.7 217.6 769.8 218.1 832.2 243.2 834.5 244.4 835.8 245.6 837.7 250.3 838.9 247.4 840.0 246.7 842.1 247.1 847.3 249.0 993.9 305.9 999.1 308.6 1001.2 312.7 1002.2 310.8 1003.3 310.2 1008.7 311.8 1076.7 339.1 1154.8 371.5 1276.3 423.1 1413.4 482.9 1571.4 553.0 1755.7 636.0"/>
<path d="M181.0 170.3 196.6 164.9 214.0 159.7 231.3 155.1 248.7 151.3 269.5 147.5 290.3 144.7 303.8 143.6 307.2 143.8 309.4 144.4 311.1 146.1 312.1 149.0 312.9 154.0 313.4 162.1 315.0 245.6 315.8 183.4 316.8 154.8 317.6 148.9 318.9 145.2 321.0 143.2 324.6 142.1 335.5 141.2 354.6 140.6 375.4 140.7 396.2 141.3 423.2 142.9 428.2 143.7 432.2 143.7 434.7 144.4 438.8 144.2 441.8 144.7 443.5 145.8 445.6 145.0 450.5 145.3 454.3 146.0 456.1 147.9 457.5 146.6 458.8 146.3 468.5 147.1 473.6 148.2 475.7 150.8 477.0 148.9 478.3 148.5 488.7 149.4 500.6 151.0 504.5 152.3 506.1 154.8 507.7 163.8 508.7 156.6 510.0 153.4 511.0 152.9 512.5 152.7 519.1 153.2 550.8 157.6 563.0 159.9 564.6 160.7 565.6 162.2 567.4 170.8 568.5 164.5 569.5 162.1 571.3 161.3 574.7 161.4 599.3 165.6 627.1 171.4 650.9 177.1 666.2 181.4 669.6 183.0 671.2 183.0 674.3 183.8 679.5 185.5 681.8 186.9 683.6 186.8 687.8 188.0 701.4 192.6 706.9 195.0 708.2 196.0 709.2 197.6 710.7 205.0 712.1 199.1 712.9 198.0 713.9 197.7 717.0 198.3 721.8 200.2 723.1 201.1 724.5 203.1 725.7 202.2 726.7 202.1 733.1 204.2 761.2 215.5 763.5 217.4 765.1 221.2 766.7 218.5 767.7 218.3 769.8 218.8 832.2 243.9 834.5 245.1 835.8 246.3 837.7 250.6 838.9 248.0 840.0 247.5 847.3 249.8 994.4 307.1 997.5 308.6 999.1 309.9 1001.2 315.7 1002.2 312.5 1003.3 311.4 1004.8 311.5 1008.2 312.6 1074.9 339.4 1156.5 373.2 1278.0 424.9 1415.2 484.7 1571.4 554.0 1755.7 637.0"/>
<path d="M181.0 169.4 196.6 164.1 214.0 159.0 231.3 154.5 248.7 150.8 269.5 147.1 290.3 144.4 303.8 143.4 307.2 143.5 309.4 144.2 311.1 145.8 312.1 148.6 312.9 153.4 313.4 161.2 315.0 239.7 315.8 181.7 316.8 154.2 317.6 148.5 318.9 144.9 321.0 143.0 325.0 141.9 337.2 141.0 356.3 140.6 377.1 140.8 398.0 141.5 423.7 143.2 428.2 143.9 432.2 143.9 434.7 144.7 436.3 144.3 439.1 144.5 441.8 144.9 443.5 146.1 445.6 145.2 450.3 145.5 454.3 146.1 456.1 147.4 457.5 146.6 458.8 146.5 468.9 147.4 473.6 148.5 475.7 151.4 477.0 149.3 478.3 148.8 490.2 149.9 500.9 151.3 504.5 152.3 506.1 154.3 507.7 160.8 509.2 154.3 510.3 153.3 512.1 152.9 540.3 156.5 556.2 158.9 562.2 160.2 564.3 161.3 565.6 163.6 567.4 176.2 568.5 166.9 569.3 163.7 570.8 162.1 574.0 161.9 597.6 165.8 625.3 171.5 655.6 179.0 660.4 180.7 666.7 182.2 669.6 183.8 671.4 183.7 674.8 184.6 679.7 186.1 681.8 187.2 684.7 187.7 696.1 191.4 706.9 195.6 708.2 196.5 709.2 198.0 710.7 204.7 712.1 199.4 712.9 198.5 713.9 198.3 716.8 198.9 721.7 200.7 723.1 201.6 724.5 203.2 725.7 202.6 726.7 202.6 733.6 205.0 761.2 216.1 763.5 217.9 765.1 221.3 766.7 219.0 767.7 218.9 769.8 219.5 832.2 244.7 834.5 245.9 835.8 247.2 837.7 252.1 838.7 249.3 839.7 248.4 841.8 248.6 846.8 250.4 994.4 308.0 997.5 309.5 999.1 310.7 1001.2 315.9 1002.2 313.2 1003.3 312.3 1005.1 312.4 1008.5 313.6 1076.7 341.1 1158.3 374.9 1279.8 426.6 1416.9 486.4 1573.1 555.8 1755.7 638.0"/>
<path d="M181.0 167.7 196.6 162.6 214.0 157.6 231.3 153.4 248.7 149.8 269.5 146.4 288.6 144.0 303.3 142.9 306.9 143.1 309.3 143.7 310.8 144.9 311.9 147.0 313.2 155.7 314.0 175.2 315.0 231.0 316.0 168.4 317.1 150.9 318.1 146.1 319.4 143.8 321.6 142.5 325.4 141.6 338.9 140.8 358.0 140.6 377.1 140.9 398.0 141.8 423.8 143.6 428.2 144.3 432.2 144.3 434.7 145.1 438.9 144.9 441.8 145.3 443.5 146.2 445.7 145.7 450.8 146.1 454.3 146.9 456.1 149.1 457.5 147.5 458.8 147.1 469.3 148.1 473.6 149.2 475.7 152.3 477.0 150.0 478.3 149.4 490.0 150.5 501.1 152.2 503.5 152.9 504.8 153.8 506.1 156.6 507.7 167.7 509.2 156.4 510.3 154.6 512.1 153.9 518.3 154.3 536.8 156.8 555.5 159.7 562.2 161.2 564.3 162.5 565.6 165.1 567.4 179.9 568.5 168.8 569.3 165.1 570.0 163.8 570.8 163.2 573.7 162.9 595.8 166.5 625.3 172.7 655.8 180.3 666.7 183.5 669.6 185.0 671.2 184.9 674.6 185.8 679.7 187.5 681.8 189.0 683.1 188.7 684.9 189.1 698.3 193.5 704.1 195.7 706.9 197.3 708.2 198.8 709.2 201.4 710.7 214.4 711.9 204.6 712.9 201.0 713.7 200.3 714.9 200.0 719.2 201.1 722.6 202.6 724.4 204.8 726.1 204.0 728.7 204.6 760.4 217.0 763.3 218.8 765.1 221.8 766.7 220.2 769.8 220.8 831.4 245.8 835.6 248.1 837.7 252.2 838.7 250.3 839.5 249.7 843.6 250.7 963.5 297.6 968.7 299.7 971.0 301.1 974.4 301.9 992.9 309.2 997.0 311.1 998.8 312.3 999.9 313.9 1001.2 317.7 1002.8 314.4 1003.8 314.1 1005.9 314.5 1061.0 336.6 1127.0 363.8 1196.4 393.0 1352.7 460.3 1534.9 540.8 1755.7 640.0"/>
<path d="M181.0 162.8 196.6 158.3 214.0 154.0 231.3 150.3 248.7 147.3 269.5 144.5 290.3 142.5 303.8 141.9 307.2 142.2 309.4 142.9 310.8 144.2 311.9 146.4 313.2 155.3 314.0 175.5 315.0 234.4 315.8 179.5 316.8 152.9 317.6 147.4 318.9 143.9 321.0 142.1 324.9 141.2 342.4 140.6 368.4 141.1 396.2 142.6 424.0 144.9 428.2 145.6 432.2 145.8 434.5 146.6 436.6 146.3 440.5 146.7 442.1 147.2 443.5 148.7 445.1 147.5 447.3 147.4 453.9 148.3 456.1 150.0 457.5 149.0 459.1 148.8 471.1 150.4 472.9 151.0 473.9 151.8 475.7 156.9 477.0 152.8 478.6 151.6 482.2 151.7 492.0 152.9 501.4 154.4 504.8 155.8 506.1 158.3 507.7 167.5 509.2 158.2 510.3 156.7 512.1 156.1 519.5 156.8 542.0 160.2 557.0 162.8 562.5 164.2 564.6 165.8 565.6 168.3 567.4 184.6 568.5 172.4 569.3 168.3 570.6 166.4 573.4 165.9 594.1 169.4 623.6 175.8 654.5 183.8 660.4 185.9 662.5 186.1 666.5 187.3 669.6 188.9 671.4 188.8 674.8 189.7 679.7 191.5 681.8 193.1 683.6 192.7 687.8 193.9 701.7 198.7 706.9 201.2 708.2 202.5 709.2 204.7 710.7 215.6 712.1 206.4 712.8 204.8 713.9 204.0 716.3 204.2 721.1 205.9 723.0 206.8 724.5 208.5 726.4 208.0 731.3 209.6 761.2 221.5 763.5 223.1 765.1 225.6 766.7 224.2 770.1 225.1 831.9 250.6 835.6 253.0 837.7 258.3 838.7 255.5 839.7 254.5 841.6 254.7 845.5 256.1 965.3 303.8 971.0 306.5 974.7 307.6 994.7 315.6 997.5 317.1 999.1 318.4 1001.2 324.3 1002.2 321.1 1003.3 319.9 1005.1 320.0 1008.5 321.1 1081.9 350.9 1168.7 387.1 1288.4 438.3 1423.8 497.5 1576.6 565.4 1755.7 646.0"/>
<path d="M181.0 160.6 196.6 156.3 214.0 152.3 229.6 149.2 246.9 146.4 266.0 144.0 286.9 142.2 302.5 141.5 306.4 141.6 309.0 142.2 310.8 143.4 311.9 145.3 313.2 152.7 314.0 169.0 315.0 211.5 316.0 163.4 317.1 148.8 318.1 144.7 319.7 142.5 322.3 141.4 327.0 140.8 351.1 140.8 382.3 142.2 419.8 145.2 425.9 145.9 428.2 146.5 431.9 146.5 434.7 147.4 438.6 147.3 441.8 147.9 443.5 149.5 445.4 148.3 449.6 148.5 454.2 149.3 456.1 150.8 457.5 149.9 459.3 149.8 472.1 151.7 473.4 152.3 474.2 153.3 475.7 158.0 477.0 153.8 478.6 152.7 482.2 152.7 492.6 154.1 501.7 155.7 503.5 156.4 504.8 157.4 506.1 160.5 507.7 172.6 508.7 162.8 509.7 158.9 510.5 158.0 511.8 157.5 516.5 157.7 549.0 162.7 563.0 165.7 564.6 166.6 565.6 168.2 567.4 177.9 568.5 170.9 569.3 168.5 570.8 167.3 574.2 167.4 597.6 171.8 625.3 178.0 653.1 185.3 658.3 186.9 660.4 188.0 664.4 188.6 667.7 189.8 669.6 191.2 671.4 190.9 675.1 191.8 679.7 193.5 681.8 195.1 683.6 194.8 687.0 195.7 701.4 200.7 706.9 203.2 708.2 204.4 709.2 206.5 710.7 216.3 712.1 208.1 712.8 206.6 713.9 206.0 716.6 206.3 721.5 208.1 723.1 209.2 724.5 211.2 725.7 210.3 726.7 210.2 733.1 212.3 761.2 223.7 763.5 225.5 765.1 228.9 766.7 226.6 768.0 226.6 770.1 227.2 831.9 253.0 834.3 254.3 835.6 255.7 836.4 257.5 837.7 263.0 838.7 258.7 839.7 257.2 841.6 257.1 845.5 258.5 965.6 306.7 971.0 309.4 974.7 310.3 994.7 318.5 997.5 319.9 999.1 321.3 1001.2 327.8 1002.2 324.1 1003.3 322.8 1004.8 322.8 1008.2 323.9 1083.6 354.5 1173.9 392.3 1291.9 442.8 1425.6 501.3 1578.3 569.2 1755.7 649.0"/>
<path d="M181.0 158.5 196.6 154.5 214.0 150.8 231.3 147.7 248.7 145.2 269.5 142.9 290.3 141.5 303.8 141.3 307.2 141.6 309.3 142.2 310.8 143.5 311.9 145.6 313.2 154.2 314.0 173.1 315.0 226.4 316.0 166.6 317.1 149.7 317.9 145.8 319.2 143.1 321.3 141.7 325.0 141.0 342.4 140.8 368.4 141.8 394.5 143.6 422.2 146.2 428.2 147.3 432.2 147.4 434.5 148.1 436.6 147.9 440.4 148.4 442.1 148.8 443.5 149.8 445.9 149.1 452.3 149.9 454.6 150.8 456.1 153.3 457.5 151.4 459.0 150.9 471.0 152.4 473.9 153.7 475.7 157.6 477.0 154.5 478.6 153.7 491.8 155.2 501.4 156.9 503.5 157.7 504.8 158.8 506.1 162.2 507.7 175.8 508.7 164.7 509.7 160.5 510.5 159.4 511.6 158.9 516.0 158.9 549.0 164.2 558.9 166.1 563.0 167.3 564.6 168.4 565.6 170.2 567.4 181.7 568.5 173.3 569.3 170.5 570.8 169.0 574.0 169.0 595.8 173.1 625.3 179.9 650.9 186.6 657.9 188.7 660.4 189.8 664.1 190.5 667.5 191.7 669.6 193.1 671.4 192.9 675.3 193.9 679.7 195.5 681.8 196.8 684.9 197.1 698.5 201.7 704.1 203.8 706.9 205.3 708.2 206.7 709.2 208.9 710.7 220.0 712.1 210.6 712.8 208.9 713.9 208.2 716.8 208.5 721.7 210.4 723.1 211.6 724.5 214.4 725.6 212.9 726.4 212.4 731.6 213.8 751.8 221.8 761.2 225.9 762.8 227.0 763.5 228.1 765.1 232.7 766.7 229.2 768.0 228.9 770.1 229.4 831.9 255.2 834.3 256.6 835.6 257.9 837.7 264.9 838.7 260.9 839.5 259.6 840.8 259.3 843.6 260.1 965.8 309.5 971.0 312.2 974.7 313.1 993.6 320.9 997.3 322.8 999.1 324.7 999.9 327.0 1001.2 334.1 1002.8 326.8 1004.1 325.8 1006.1 326.1 1022.9 332.6 1081.9 356.7 1215.5 413.0 1366.6 478.4 1543.6 556.7 1755.7 652.0"/>
<path d="M181.0 154.7 198.3 150.9 215.7 147.8 233.0 145.3 250.4 143.3 273.0 141.6 293.8 140.9 304.9 141.1 307.7 141.6 309.5 142.5 311.1 144.3 312.1 147.4 312.9 152.7 313.4 161.2 315.0 252.9 315.8 184.1 316.8 153.9 317.6 147.7 318.7 144.4 320.5 142.4 323.6 141.4 329.6 141.1 340.7 141.3 371.9 143.0 419.1 147.6 425.8 148.5 428.2 149.3 431.9 149.3 434.7 150.4 436.2 149.9 438.9 150.1 441.8 150.7 443.5 151.8 446.1 151.1 453.3 152.2 454.8 153.2 456.1 155.5 457.5 153.5 459.1 153.1 471.6 154.8 473.9 156.2 475.7 161.1 477.0 157.2 477.8 156.4 478.8 156.1 484.6 156.5 498.8 158.9 503.2 160.1 504.5 161.1 505.3 162.2 506.4 166.3 507.7 178.2 509.2 164.5 510.3 162.3 511.8 161.5 515.2 161.6 522.2 162.6 555.5 168.5 562.2 170.3 563.8 171.3 564.8 172.6 566.1 177.9 567.4 192.0 568.5 179.1 569.3 174.9 570.6 172.8 573.4 172.3 592.4 175.9 623.6 183.2 655.0 191.8 660.4 193.9 662.5 194.1 666.7 195.4 669.6 196.9 671.4 196.9 674.8 197.9 679.7 199.7 681.8 201.5 683.4 201.0 686.5 201.7 701.2 206.9 706.9 209.5 708.2 210.7 709.2 212.8 710.7 222.7 712.1 214.4 712.8 212.9 713.9 212.3 716.8 212.7 721.7 214.6 723.1 215.7 724.5 218.1 725.7 216.8 726.6 216.6 732.6 218.5 761.2 230.1 763.5 232.1 765.1 235.8 766.7 233.2 768.0 233.1 770.1 233.7 831.7 259.7 834.3 261.1 835.6 262.2 837.7 267.9 838.7 264.9 839.5 264.0 840.8 263.9 843.4 264.7 966.1 315.2 971.0 317.8 974.7 318.7 993.9 326.6 997.5 328.7 999.1 330.6 999.9 333.2 1001.2 341.2 1002.2 334.5 1003.0 332.4 1004.3 331.6 1006.4 331.9 1026.3 339.7 1097.5 369.1 1227.7 424.2 1377.0 489.0 1550.6 565.9 1755.7 658.0"/>
<path d="M181.0 151.4 196.6 148.5 214.0 145.8 231.3 143.7 248.7 142.2 269.5 141.1 290.3 140.6 303.8 141.0 307.2 141.4 309.3 142.1 310.8 143.4 311.9 145.4 313.2 153.3 314.0 170.8 315.0 217.7 316.0 164.9 317.1 149.4 318.1 145.1 319.4 143.1 321.6 142.0 325.2 141.6 345.9 142.3 375.4 144.6 419.6 149.5 425.9 150.5 428.2 151.3 429.8 151.1 432.1 151.3 434.7 152.3 436.1 152.0 438.4 152.2 441.7 152.9 443.5 154.7 444.8 153.6 446.0 153.4 453.1 154.4 454.8 155.3 456.1 157.4 457.5 155.7 459.1 155.3 471.6 157.2 473.9 158.5 475.7 162.8 477.0 159.4 477.8 158.8 478.8 158.5 483.8 159.0 497.2 161.2 503.0 162.6 505.3 164.3 506.4 167.2 507.7 175.5 509.0 166.9 510.3 164.6 511.6 164.2 513.4 164.2 522.9 165.6 554.2 171.5 560.4 172.9 563.3 174.0 564.6 175.1 565.6 177.2 567.4 190.6 568.5 180.8 569.3 177.5 570.8 175.8 573.7 175.7 594.1 179.9 623.6 187.1 654.0 195.6 658.4 197.0 660.4 198.3 662.1 198.2 664.7 198.9 667.7 200.1 669.6 201.5 671.4 201.2 675.7 202.4 679.7 203.9 681.8 205.3 683.1 205.1 685.2 205.6 700.0 210.8 704.6 212.8 707.1 214.5 708.4 216.7 709.3 220.4 710.7 239.1 712.3 221.0 713.2 218.2 714.5 217.2 717.5 217.5 721.8 219.2 723.1 220.5 724.5 223.8 725.9 221.4 727.9 221.3 750.3 229.9 762.2 235.2 763.5 236.7 765.1 241.0 766.7 237.8 768.0 237.6 770.1 238.1 832.2 264.6 834.5 265.9 835.8 267.2 837.7 272.3 838.7 269.4 839.5 268.6 840.8 268.5 843.4 269.4 966.6 320.9 971.0 323.1 974.4 324.1 994.2 332.3 997.5 334.0 999.1 335.4 1001.2 341.9 1002.2 338.3 1003.3 337.0 1005.4 337.1 1009.8 338.7 1128.7 388.1 1255.5 442.1 1361.3 488.2 1477.6 539.5 1755.7 664.0"/>
<path d="M181.0 142.2 198.3 141.2 217.4 140.6 253.9 141.1 274.7 142.2 293.8 143.8 302.5 145.2 307.2 147.0 309.3 149.1 310.6 151.8 311.6 156.1 312.4 162.4 313.4 180.9 315.0 229.3 316.6 176.6 318.1 157.3 319.2 152.8 321.0 149.6 323.6 148.2 328.0 147.7 342.4 148.9 370.2 152.6 403.2 157.8 432.2 163.0 437.5 164.3 440.1 165.4 441.5 166.9 443.5 170.7 445.4 167.7 446.6 166.9 448.8 166.7 451.8 167.5 454.0 169.3 456.1 173.6 458.1 170.3 459.5 169.2 462.2 169.1 466.6 169.8 470.5 171.2 472.6 173.0 473.6 175.2 475.2 181.9 475.7 182.8 477.8 175.5 478.8 174.0 480.1 173.3 482.5 173.1 486.7 173.7 498.0 176.4 500.4 177.5 502.2 178.9 503.5 180.8 504.5 183.7 505.8 192.2 507.1 211.2 507.7 214.3 510.0 187.6 511.3 183.1 512.3 181.6 513.4 180.9 515.2 180.4 517.6 180.4 526.4 181.8 547.2 186.4 557.0 189.4 559.9 191.0 562.0 193.1 563.3 195.7 564.3 199.8 565.6 212.4 566.9 243.1 567.4 248.5 569.0 214.5 570.0 203.2 570.8 199.3 571.9 196.7 573.3 195.1 575.3 194.4 578.1 194.3 582.8 195.0 601.0 199.4 628.8 207.2 650.3 214.0 654.8 215.8 657.1 217.5 658.4 219.5 660.4 225.1 662.5 220.9 663.4 220.2 664.4 220.0 665.9 220.6 667.0 221.7 669.6 227.1 671.4 223.7 672.5 222.8 674.8 222.8 677.6 224.0 679.5 225.9 681.8 231.2 683.6 227.9 684.9 226.9 687.3 226.9 691.5 228.2 698.0 230.7 702.2 232.9 704.8 235.0 706.7 237.9 707.9 242.0 708.7 247.9 710.7 275.4 712.9 248.0 713.9 242.9 715.4 240.3 716.5 239.7 717.9 239.6 720.9 240.7 722.5 242.6 724.5 247.3 726.6 243.7 728.4 243.0 732.3 243.9 740.4 246.9 754.7 252.9 760.4 256.1 762.8 259.1 765.1 266.5 766.7 262.2 767.7 260.6 769.3 260.0 771.9 260.4 797.2 271.0 829.6 285.9 833.0 288.2 834.8 290.5 837.7 300.5 839.5 294.4 840.5 292.8 842.6 292.3 846.2 293.3 963.0 344.9 966.1 346.6 967.9 348.1 969.0 349.9 971.0 354.4 973.1 351.2 975.2 350.7 980.9 352.7 991.0 357.3 995.7 360.5 997.0 362.2 998.1 364.5 999.4 370.6 1000.7 383.1 1001.2 385.1 1003.0 371.0 1003.8 367.9 1005.1 365.7 1006.7 365.0 1009.0 365.2 1018.4 368.6 1182.6 438.4 1340.5 507.1 1528.0 590.0 1755.7 692.0"/>
<path d="M181.0 140.6 217.4 141.1 253.9 143.3 274.7 145.3 292.1 147.4 301.7 149.1 306.9 151.0 309.0 152.7 310.6 155.6 311.6 159.4 312.4 165.0 313.4 180.9 314.6 217.1 315.0 220.1 316.6 177.5 317.3 166.3 318.1 160.7 319.4 156.3 321.3 153.9 323.9 152.9 328.3 152.7 342.4 154.4 370.2 159.0 406.6 165.8 433.6 171.3 438.1 172.6 440.4 173.9 441.7 175.7 443.5 180.2 445.4 176.5 446.6 175.4 449.0 175.1 451.9 176.0 454.0 178.1 456.1 183.3 458.1 179.3 459.5 177.9 462.2 177.7 466.9 178.6 470.6 180.1 472.6 182.5 473.6 185.3 475.2 194.3 475.7 195.5 477.8 185.5 478.8 183.4 480.1 182.4 482.2 182.1 485.9 182.4 498.0 185.3 502.2 187.6 503.5 189.3 504.5 191.7 505.8 198.8 507.1 214.0 507.7 216.4 510.0 195.2 511.3 191.5 513.4 189.7 517.3 189.5 524.8 190.7 545.5 195.5 556.5 198.6 559.6 200.0 561.7 201.6 563.3 204.0 564.3 207.1 565.6 216.3 566.9 237.0 567.4 240.4 569.0 218.0 570.0 210.0 570.8 207.2 572.1 205.0 573.7 204.0 575.8 203.8 584.6 205.2 604.5 210.4 628.8 217.5 650.1 224.3 654.7 226.2 657.1 227.8 658.4 229.4 660.4 234.0 662.8 230.6 664.3 230.4 665.9 231.1 667.5 233.0 669.6 237.7 671.2 234.7 672.4 233.5 674.5 233.5 677.1 234.5 679.4 236.7 681.8 242.1 683.6 238.8 684.9 237.8 687.3 237.9 691.2 239.1 698.3 242.0 702.8 244.6 705.4 247.3 706.9 250.7 708.0 255.4 708.7 262.1 710.7 297.3 712.8 262.7 713.7 256.6 715.0 252.9 716.0 251.8 717.3 251.3 719.1 251.4 720.7 252.3 722.5 254.6 724.5 260.3 726.4 256.1 727.9 254.8 730.8 254.9 736.8 257.0 753.6 264.2 760.2 268.0 761.7 269.7 762.8 271.9 765.1 281.2 766.9 274.6 768.2 272.7 770.6 272.3 775.5 273.9 811.1 289.8 830.9 299.5 833.2 301.3 834.8 303.4 837.7 313.2 839.5 307.3 840.5 305.8 842.6 305.3 846.0 306.3 963.0 359.2 967.9 362.4 971.0 368.0 973.1 365.4 975.5 365.1 981.4 367.3 991.3 371.9 995.7 374.9 997.0 376.5 998.1 378.6 999.1 382.6 1000.7 395.3 1001.2 397.1 1003.0 384.7 1003.8 381.9 1004.8 380.2 1006.4 379.5 1008.5 379.7 1017.9 383.1 1191.2 457.5 1345.7 525.0 1531.5 607.4 1755.7 708.0"/>
<path d="M181.0 140.6 219.2 142.1 259.1 145.5 279.9 148.1 295.5 150.5 303.3 152.3 307.5 154.5 309.3 156.7 310.6 159.8 311.6 164.7 312.4 171.7 313.4 192.9 315.0 253.0 316.4 194.1 317.1 177.1 317.9 168.0 318.9 162.1 320.5 158.4 322.8 156.5 326.5 155.9 337.2 156.9 363.2 161.4 401.4 168.8 433.4 175.5 437.9 176.9 440.2 178.2 441.5 179.8 443.5 184.5 445.4 180.8 446.6 179.8 449.0 179.5 451.9 180.4 454.0 182.5 456.1 187.6 458.1 183.7 459.5 182.4 462.2 182.1 466.9 183.0 470.6 184.3 472.6 185.9 473.6 187.9 475.2 193.7 475.7 194.5 477.8 188.3 478.8 187.1 480.1 186.5 482.5 186.5 486.7 187.2 498.0 190.1 500.4 191.2 502.2 192.6 503.5 194.4 504.5 197.1 505.8 204.8 507.1 221.9 507.7 224.6 510.0 200.8 511.3 196.7 512.3 195.4 513.4 194.7 517.6 194.4 526.4 196.0 547.2 200.9 557.3 204.2 560.2 205.9 562.0 207.9 563.3 210.6 564.3 214.8 565.6 227.6 567.4 264.6 569.0 229.7 570.0 218.2 570.8 214.3 571.9 211.6 573.3 210.0 575.3 209.3 578.1 209.3 582.8 210.0 601.0 214.6 628.8 222.8 650.3 229.9 654.8 231.8 657.1 233.6 658.4 235.6 660.4 241.4 662.3 237.4 663.9 236.3 665.4 236.6 667.0 238.1 669.6 244.8 671.2 240.9 672.4 239.4 674.5 239.2 677.1 240.3 678.4 241.3 679.4 242.8 681.8 249.4 683.6 245.0 684.9 243.7 687.5 243.6 692.2 245.0 698.3 247.5 702.5 249.7 705.1 251.8 706.7 254.1 707.9 257.8 708.7 262.4 710.7 286.0 712.9 263.3 713.9 259.2 715.2 257.0 717.6 256.3 720.8 257.5 722.5 259.3 724.5 263.5 726.4 260.7 728.2 260.1 731.3 260.8 737.8 263.3 753.6 270.2 760.2 273.7 761.7 275.1 762.8 276.8 765.1 283.6 766.7 279.8 767.7 278.4 769.3 278.0 771.9 278.5 800.7 291.4 829.6 305.4 833.0 308.0 834.8 310.8 837.7 323.4 839.5 315.3 840.5 313.1 841.3 312.5 842.6 312.2 846.0 313.1 963.0 366.5 966.1 368.4 967.9 370.1 969.0 372.0 971.0 377.4 973.1 373.4 973.9 372.8 975.2 372.6 980.7 374.3 991.3 379.3 995.7 382.4 997.0 384.1 998.1 386.4 999.4 392.4 1000.7 404.8 1001.2 406.8 1003.0 392.9 1003.8 389.8 1004.8 387.9 1006.4 387.1 1008.5 387.1 1017.3 390.3 1193.0 465.9 1345.7 532.8 1531.5 615.3 1755.7 716.0"/>
<path d="M181.0 141.7 219.2 144.6 259.1 149.5 279.9 152.7 295.5 155.5 303.0 157.4 307.2 159.5 309.3 161.8 310.6 164.7 311.6 169.2 312.4 175.7 313.4 194.8 315.0 245.6 316.6 190.7 317.9 172.5 318.9 167.2 320.5 163.8 322.8 162.2 326.7 161.7 337.2 163.0 361.5 167.7 403.2 176.6 434.0 183.7 438.2 185.0 440.4 186.5 441.7 188.4 443.5 193.2 445.3 189.4 446.2 188.3 447.8 187.7 450.1 188.0 452.2 188.9 453.6 190.3 456.1 196.5 458.1 192.2 459.5 190.8 462.2 190.5 467.2 191.6 470.8 193.1 472.6 195.1 473.6 197.4 475.2 204.9 475.7 205.9 477.8 197.8 478.8 196.1 480.1 195.4 482.5 195.2 486.7 195.8 498.3 199.0 500.6 200.2 502.5 201.8 503.8 204.0 504.5 206.3 505.8 214.8 507.1 233.6 507.7 236.6 509.2 216.4 510.5 207.9 511.6 205.3 512.9 204.0 514.7 203.3 517.7 203.3 529.9 205.7 550.0 210.6 557.5 213.0 561.5 215.2 563.5 218.1 564.8 222.7 567.4 248.8 569.0 230.0 570.3 222.1 571.1 220.2 572.4 218.7 574.0 218.0 576.0 217.9 585.4 219.8 608.0 225.9 632.3 233.4 650.9 239.7 655.0 241.6 657.3 243.4 658.6 245.7 660.4 250.9 662.3 247.0 663.9 245.8 665.4 246.1 667.0 247.3 669.6 252.5 672.0 249.0 673.5 248.7 675.5 249.2 677.7 250.4 679.2 252.1 681.8 259.2 683.6 254.9 684.9 253.6 687.3 253.5 691.7 254.8 698.5 257.7 702.8 260.2 705.4 262.7 706.9 265.8 708.0 269.9 708.7 275.8 710.7 305.3 712.8 276.6 713.7 271.4 715.0 268.2 716.0 267.3 717.3 266.9 719.1 267.2 720.6 267.9 722.3 269.6 724.5 274.5 726.4 271.5 727.8 270.6 730.3 270.9 735.5 272.8 752.3 280.2 759.9 284.2 762.5 287.0 765.1 294.3 766.7 290.6 767.7 289.2 769.3 288.8 771.9 289.4 798.9 301.8 829.6 316.9 833.0 319.4 834.8 322.0 837.7 333.0 839.5 326.2 840.5 324.4 842.6 323.8 846.0 324.7 963.2 379.4 966.3 381.3 968.2 383.1 971.0 390.0 973.1 386.1 973.9 385.5 975.2 385.4 980.9 387.3 991.6 392.3 995.7 395.1 997.0 396.7 998.1 398.8 999.1 402.8 1000.7 415.4 1001.2 417.2 1003.0 404.9 1003.8 402.2 1004.8 400.5 1006.1 399.9 1008.2 400.0 1016.8 403.0 1201.6 483.2 1350.9 548.8 1534.9 630.7 1755.7 730.0"/>
<path d="M181.0 143.0 215.7 146.5 253.9 151.7 292.1 158.4 301.7 160.6 306.7 162.5 308.8 164.1 310.3 166.4 311.4 169.3 312.1 173.2 313.2 184.0 314.6 217.3 315.0 219.6 316.6 186.0 318.1 171.9 319.4 168.2 321.0 166.5 323.6 165.7 327.8 165.8 340.7 168.0 365.0 173.2 434.0 189.0 438.1 190.3 440.4 191.5 441.7 193.1 443.5 196.7 446.2 193.3 447.8 193.0 450.0 193.4 452.1 194.2 453.5 195.4 456.1 201.2 458.2 197.3 459.6 196.2 462.4 196.1 467.2 197.2 470.8 198.8 472.6 200.9 473.6 203.4 475.2 211.3 475.7 212.4 477.8 203.8 478.8 202.0 480.1 201.1 482.5 200.9 486.5 201.5 498.5 204.8 500.9 206.1 502.5 207.4 503.8 209.5 504.5 211.6 505.8 219.4 507.1 236.5 507.7 239.2 510.0 215.4 511.3 211.3 512.3 210.0 513.4 209.4 517.3 209.1 524.8 210.5 545.5 215.5 557.0 218.9 559.9 220.3 562.0 222.1 563.3 224.1 564.3 227.2 565.6 236.1 566.9 256.2 567.4 259.4 569.0 237.9 570.0 230.1 570.8 227.4 572.1 225.3 573.7 224.4 575.8 224.1 584.6 225.7 604.5 231.1 628.8 238.5 649.3 245.4 654.5 247.6 657.1 249.4 658.4 251.4 660.4 256.7 662.3 253.1 663.9 252.1 665.4 252.4 667.0 253.5 669.6 258.1 671.9 255.2 673.2 255.0 675.0 255.3 677.4 256.4 679.0 257.8 681.8 263.5 683.6 260.5 684.9 259.7 687.3 259.8 691.2 261.1 697.8 263.9 702.2 266.3 704.8 268.5 706.7 271.4 707.9 275.4 708.7 281.2 710.7 307.6 712.8 282.1 713.9 276.9 715.2 274.4 716.3 273.7 717.8 273.6 719.4 274.1 721.0 275.2 722.5 277.4 724.5 283.4 726.4 279.0 727.9 277.7 730.8 277.9 736.3 279.9 753.4 287.7 760.2 291.6 761.7 293.3 762.8 295.4 765.1 303.9 766.7 298.8 767.7 296.8 769.3 296.1 771.9 296.6 779.7 299.9 798.9 309.0 821.0 319.9 829.6 324.6 833.0 327.3 834.8 330.5 837.7 345.2 839.2 336.6 840.5 332.9 841.3 332.1 842.6 331.7 846.0 332.5 963.2 387.6 966.3 389.5 968.2 391.2 971.0 397.7 973.1 394.2 973.9 393.7 975.2 393.6 980.7 395.4 991.6 400.5 995.7 403.2 998.1 406.3 999.1 409.6 1000.7 419.6 1001.2 421.0 1003.0 411.6 1003.8 409.5 1004.8 408.3 1006.4 407.9 1008.5 408.2 1016.8 411.4 1212.1 496.4 1356.1 559.9 1538.4 641.2 1755.7 739.0"/>
<path d="M181.0 144.0 217.4 148.1 255.6 153.8 293.8 161.0 302.2 163.1 306.9 165.0 309.0 166.8 310.3 168.9 311.4 171.9 312.1 176.1 313.2 187.4 314.6 222.9 315.0 225.4 316.6 189.5 317.3 179.7 318.1 174.7 319.4 170.8 321.0 169.0 323.6 168.2 327.5 168.3 338.9 170.2 365.0 175.9 434.7 192.4 438.4 193.8 440.5 195.4 441.7 197.4 443.5 202.9 445.7 197.8 446.6 196.9 447.9 196.5 450.8 196.9 453.1 198.4 454.3 200.2 456.1 205.0 458.2 200.7 459.6 199.5 462.4 199.3 467.4 200.4 470.8 201.9 472.6 203.8 473.6 205.9 475.2 212.9 475.7 213.9 477.8 206.4 478.8 204.9 480.1 204.2 482.5 204.1 486.4 204.7 498.3 207.9 502.5 210.3 504.5 213.8 505.8 220.1 507.1 233.5 507.7 235.6 510.0 217.1 511.3 213.9 513.4 212.4 517.6 212.4 526.4 214.1 547.2 219.3 557.3 222.6 560.2 224.1 562.0 225.9 563.3 228.2 564.3 231.7 565.6 242.1 566.9 266.2 567.4 270.3 569.0 244.0 570.0 234.8 570.8 231.6 571.9 229.5 573.4 228.2 575.5 227.7 578.9 228.0 584.1 229.1 604.5 234.6 630.6 242.6 650.3 249.4 654.8 251.4 657.1 253.1 658.4 255.1 660.4 260.5 662.5 256.6 663.4 255.9 664.4 255.8 665.9 256.5 667.0 257.6 669.6 263.1 671.6 259.5 672.5 258.9 673.7 258.8 676.4 259.6 678.7 261.1 679.7 262.5 681.8 267.1 683.6 264.1 684.9 263.3 687.0 263.4 690.9 264.7 697.7 267.6 702.2 270.1 704.8 272.4 706.7 275.5 707.9 279.9 708.7 286.3 710.7 316.3 712.8 287.2 713.7 281.9 715.0 278.7 716.0 277.8 717.5 277.5 719.3 277.9 720.8 278.8 722.5 281.2 724.5 287.1 726.4 282.8 727.8 281.5 730.3 281.6 735.5 283.5 752.1 290.9 759.9 295.1 762.5 298.1 765.1 305.7 766.7 301.8 767.7 300.3 769.3 299.8 771.9 300.5 795.5 311.4 829.3 328.4 832.7 330.7 834.5 332.9 835.6 335.3 837.7 343.3 839.5 337.4 840.5 335.9 842.3 335.5 845.8 336.5 963.2 392.2 966.3 394.0 968.2 395.7 971.0 401.9 973.1 398.6 975.2 398.1 980.9 400.2 991.6 405.2 995.7 407.9 998.1 411.3 999.1 414.9 1000.7 425.9 1001.2 427.5 1003.0 417.0 1003.8 414.6 1004.8 413.2 1006.1 412.7 1008.2 412.9 1016.3 415.9 1213.8 502.0 1357.9 565.6 1538.4 646.2 1755.7 744.0"/>
<path d="M181.0 144.2 219.2 148.6 259.1 154.8 295.5 161.9 303.0 163.9 307.2 166.0 309.3 168.3 310.6 171.0 311.6 175.3 312.4 181.3 313.4 199.0 315.0 244.0 316.6 195.3 317.9 178.6 318.9 173.7 320.5 170.6 322.8 169.1 326.7 168.8 337.2 170.4 358.0 174.9 434.0 192.8 438.2 194.1 440.4 195.4 441.7 197.0 443.5 201.0 446.2 197.2 447.8 196.9 450.0 197.2 452.1 198.2 453.5 199.5 456.1 206.0 458.2 201.4 459.6 200.2 462.4 200.0 467.4 201.2 470.8 202.8 472.6 205.0 473.6 207.6 475.2 216.2 475.7 217.4 477.8 208.0 478.8 206.1 480.1 205.2 482.5 204.9 486.5 205.5 493.6 207.2 498.5 208.9 500.9 210.1 502.5 211.5 503.8 213.7 504.5 216.0 505.8 224.3 507.1 242.6 507.7 245.5 510.0 219.9 511.3 215.6 512.3 214.2 513.4 213.5 517.3 213.2 524.8 214.5 545.5 219.5 557.0 223.0 559.9 224.4 562.0 226.1 563.3 228.2 564.3 231.2 565.6 240.1 566.9 259.9 567.4 263.1 569.0 241.8 570.0 234.1 570.8 231.4 572.1 229.4 573.7 228.5 575.8 228.3 584.6 229.9 606.3 235.8 630.6 243.3 650.3 250.2 654.8 252.2 657.1 254.0 658.4 256.2 660.4 262.3 662.5 257.6 664.1 256.7 665.6 257.1 667.0 258.2 669.6 263.5 671.2 260.7 672.4 259.6 674.5 259.7 677.1 260.8 679.4 263.4 681.8 269.7 683.6 265.6 684.9 264.4 687.3 264.3 691.7 265.7 698.2 268.5 702.5 270.8 705.1 273.0 706.7 275.3 707.9 278.9 708.7 283.5 710.7 306.9 712.9 284.6 713.9 280.6 715.2 278.5 716.2 277.9 717.6 277.8 720.8 279.1 722.5 281.0 724.5 285.5 726.4 282.6 727.8 281.8 730.3 282.2 735.2 284.0 752.6 292.0 759.9 296.1 761.7 298.1 762.8 300.2 765.1 309.2 766.7 303.8 767.7 301.7 769.3 300.9 771.9 301.4 778.9 304.3 795.5 312.2 829.6 329.4 833.0 332.0 834.8 334.6 837.7 346.0 839.5 339.0 840.5 337.1 842.3 336.5 845.8 337.4 963.2 393.2 966.3 395.2 968.2 397.2 971.0 404.9 973.1 400.2 973.9 399.6 975.2 399.3 980.7 401.0 991.6 406.2 995.7 408.9 998.1 412.4 999.1 416.1 1000.7 427.5 1001.2 429.2 1003.0 418.2 1003.8 415.7 1004.8 414.3 1006.1 413.7 1008.2 413.9 1016.3 416.8 1213.8 503.0 1357.9 566.6 1538.4 647.2 1755.7 745.0"/>
<path d="M181.0 144.6 215.7 148.8 253.9 154.7 292.1 161.9 301.7 164.3 306.7 166.2 308.8 167.8 310.3 170.1 311.4 173.0 312.1 176.9 313.2 187.7 314.6 220.5 315.0 222.9 316.6 189.7 318.1 175.7 319.4 172.1 321.0 170.4 323.6 169.6 327.5 169.7 352.8 174.8 411.9 188.6 412.1 205.7 413.4 206.0 413.6 189.0 432.3 193.6 438.6 195.6 441.2 197.5 443.5 202.3 445.3 199.3 446.5 198.4 448.4 198.2 451.2 198.8 453.8 200.8 456.1 206.0 458.2 202.3 459.9 201.2 463.8 201.5 469.3 203.2 471.6 204.8 473.1 207.2 475.7 218.2 477.8 209.2 478.8 207.3 480.1 206.5 482.7 206.2 486.9 206.9 493.9 208.7 498.6 210.4 501.1 212.0 502.7 213.8 503.8 216.2 504.8 220.1 505.8 228.9 507.1 252.4 507.7 256.3 509.2 230.7 510.5 220.5 511.6 217.3 512.9 215.7 514.7 214.8 517.3 214.7 528.1 216.6 549.0 221.9 557.3 224.5 561.5 226.9 563.5 230.0 564.8 234.8 567.4 263.0 569.0 242.6 570.3 234.2 571.1 232.1 572.1 230.7 573.7 229.8 575.8 229.6 585.4 231.4 606.3 237.2 630.6 244.7 649.8 251.4 654.7 253.4 657.1 255.1 658.4 256.9 660.4 261.8 662.3 258.6 663.9 257.8 665.4 258.2 667.0 259.4 669.6 264.6 672.0 261.2 673.3 260.9 675.3 261.4 677.6 262.7 679.2 264.4 681.8 271.6 683.6 267.3 684.9 265.9 687.3 265.8 692.0 267.3 698.2 270.0 702.5 272.2 705.1 274.4 706.7 276.6 707.9 280.1 708.7 284.4 710.7 306.5 712.9 285.6 713.9 281.8 715.2 279.8 716.2 279.3 717.6 279.2 720.8 280.5 722.5 282.3 724.5 286.4 726.4 283.9 727.8 283.2 730.3 283.7 735.2 285.6 752.3 293.3 759.9 297.4 762.5 300.2 765.1 307.3 766.7 303.8 767.7 302.5 769.3 302.1 771.9 302.8 800.7 316.4 829.6 331.1 833.0 333.7 834.8 336.5 837.7 348.4 839.5 341.0 840.5 339.0 842.3 338.2 845.8 339.1 963.2 395.0 966.3 397.0 968.2 399.0 971.0 406.6 973.1 402.0 973.9 401.4 975.2 401.2 980.7 402.9 991.6 408.1 995.7 411.1 997.0 412.7 998.1 415.0 999.4 420.9 1000.7 433.0 1001.2 435.0 1003.0 421.4 1003.8 418.4 1004.8 416.6 1006.1 415.9 1008.2 415.9 1016.0 418.6 1212.1 504.2 1356.1 567.8 1538.4 649.2 1755.7 747.0"/>
<path d="M181.0 152.2 219.2 159.0 260.8 167.7 295.5 176.0 302.8 178.2 306.9 180.3 309.0 182.2 310.3 184.4 311.4 187.7 312.1 192.1 313.2 204.4 315.0 246.3 316.6 206.7 318.1 191.0 319.2 187.3 320.7 185.1 323.1 184.1 326.5 184.1 335.5 185.8 352.8 190.1 435.0 211.6 438.6 213.1 440.5 214.6 441.7 216.7 443.5 222.3 445.7 217.2 446.6 216.3 447.8 215.9 450.8 216.4 453.1 218.0 454.3 219.9 456.1 225.3 458.2 220.5 459.6 219.2 462.5 219.0 467.6 220.2 470.8 221.6 472.6 223.5 473.6 225.8 475.2 232.8 475.7 233.8 477.8 226.3 478.8 224.8 480.1 224.1 482.5 224.0 486.5 224.7 498.5 228.1 502.5 230.6 503.8 232.5 504.5 234.4 505.8 241.4 507.1 256.4 507.7 258.8 510.0 238.0 511.3 234.4 513.4 232.8 518.1 232.8 528.1 234.9 549.0 240.4 557.6 243.5 560.2 245.0 562.0 247.1 563.3 249.8 564.3 254.0 565.6 266.9 567.4 304.1 569.0 269.1 570.0 257.6 570.8 253.6 571.9 251.0 573.3 249.4 575.3 248.7 578.1 248.7 582.8 249.6 601.0 254.5 627.1 262.5 649.3 270.3 654.5 272.5 657.1 274.4 658.4 276.5 660.4 282.1 662.5 278.0 664.1 277.2 665.6 277.6 667.0 278.6 669.6 283.3 671.2 281.0 672.4 280.2 674.3 280.3 676.9 281.5 678.4 282.6 679.4 284.1 681.8 290.0 683.6 286.3 684.9 285.2 687.3 285.3 691.5 286.7 697.8 289.5 702.2 291.9 704.8 294.1 706.7 296.9 707.9 300.8 708.7 305.8 710.7 331.6 712.8 307.5 713.7 303.0 715.0 300.3 716.0 299.6 717.3 299.4 719.1 299.8 720.7 300.7 722.3 302.5 724.5 307.6 726.4 304.4 727.7 303.6 730.0 303.9 734.2 305.4 751.8 313.7 759.9 318.3 762.5 321.4 765.1 329.4 766.7 325.2 767.7 323.7 769.3 323.2 771.9 323.8 795.5 335.3 829.3 353.0 832.7 355.5 834.5 357.8 835.6 360.4 837.7 369.0 839.5 362.6 840.5 361.0 842.3 360.4 845.7 361.4 910.0 393.3 963.5 419.1 966.3 420.8 968.2 422.4 971.0 427.7 973.1 425.2 975.5 425.0 982.0 427.6 992.1 432.5 996.0 435.2 998.1 438.2 999.1 441.6 1000.7 451.8 1001.2 453.3 1003.0 443.7 1003.8 441.5 1004.8 440.3 1006.1 439.9 1008.0 440.0 1015.3 442.7 1370.0 599.6 1547.1 678.9 1755.7 773.0"/>
<path d="M181.0 156.0 217.4 163.1 255.6 171.6 293.8 181.1 302.0 183.5 306.7 185.5 308.8 186.9 310.3 188.9 312.1 194.7 313.2 203.3 314.5 226.2 315.0 230.0 316.6 205.2 318.1 194.2 319.4 191.4 321.0 190.1 323.3 189.7 327.2 190.1 352.8 196.4 435.3 218.7 438.7 220.1 440.6 221.7 441.7 223.7 443.5 229.1 445.7 224.1 446.6 223.2 447.9 222.8 450.8 223.3 453.1 224.5 454.3 225.9 456.1 229.7 458.2 226.6 459.6 225.9 462.7 226.0 467.4 227.4 470.8 229.1 472.6 231.5 473.6 234.4 475.2 243.9 475.7 245.2 477.8 234.8 478.8 232.7 480.1 231.7 482.5 231.4 486.1 231.9 493.3 233.7 498.6 235.4 502.5 237.9 503.8 239.8 504.5 241.8 505.8 248.8 507.1 264.1 507.7 266.5 510.0 245.4 511.3 241.7 513.4 240.1 517.6 240.0 526.4 241.8 547.2 247.2 557.5 250.5 560.2 251.9 562.0 253.6 563.3 255.8 564.3 259.1 565.6 268.7 566.9 290.7 567.4 294.3 569.0 270.6 570.0 262.1 570.8 259.2 572.1 256.9 573.7 256.0 575.8 255.7 584.6 257.3 606.3 263.4 630.6 271.1 650.3 278.2 654.8 280.3 657.1 282.1 658.4 284.2 660.4 290.0 662.8 285.4 664.1 285.0 665.9 285.7 667.5 287.9 669.6 293.5 671.6 289.0 672.5 288.3 673.7 288.1 676.4 288.8 678.7 290.5 679.7 292.0 681.8 296.9 683.6 293.7 684.9 292.7 687.3 292.9 691.5 294.3 702.2 299.5 704.8 301.5 706.7 304.0 707.9 307.3 708.7 311.5 710.7 332.2 712.8 313.2 713.7 309.7 715.0 307.5 716.2 307.0 717.6 307.0 720.9 308.6 722.5 310.7 724.5 315.7 726.4 312.4 727.7 311.5 730.0 311.8 734.2 313.3 751.8 321.7 759.9 326.4 762.5 329.5 765.1 337.8 766.7 333.5 767.7 331.9 769.3 331.4 771.9 332.0 780.2 335.9 800.7 346.3 821.5 357.3 829.6 362.0 833.0 364.9 834.8 368.2 837.7 383.2 839.2 374.5 840.5 370.7 841.3 369.9 842.3 369.6 845.7 370.3 854.1 374.2 911.8 403.3 963.5 428.4 966.3 430.2 968.2 431.9 971.0 437.7 973.1 434.8 974.1 434.4 975.5 434.5 981.7 436.9 992.1 442.0 996.0 444.7 998.1 447.8 999.1 451.3 1000.7 462.0 1001.2 463.6 1003.0 453.4 1004.6 450.0 1005.9 449.4 1007.7 449.5 1015.0 452.1 1375.2 611.8 1755.7 783.0"/>
<path d="M181.0 158.5 220.9 166.8 262.6 176.6 295.5 185.2 302.8 187.6 306.9 189.7 309.0 191.6 310.3 193.8 311.4 197.0 312.1 201.3 313.2 213.2 314.6 250.6 315.0 253.3 316.6 215.5 318.1 200.4 319.2 196.8 320.7 194.7 323.1 193.8 326.5 193.9 333.7 195.3 347.6 198.9 435.0 222.8 438.6 224.1 440.5 225.2 441.7 226.7 443.5 230.3 446.2 227.1 447.8 226.8 450.1 227.3 452.2 228.2 453.6 229.5 456.1 234.9 458.2 231.3 459.6 230.3 462.7 230.4 467.6 231.8 470.8 233.4 472.6 235.7 473.6 238.4 475.2 247.3 475.7 248.5 477.8 238.9 478.8 236.9 480.1 236.0 482.7 235.8 486.9 236.5 494.1 238.4 498.8 240.2 501.1 241.6 502.7 243.3 503.8 245.6 504.8 249.2 505.8 257.4 507.1 278.6 507.7 282.1 509.2 259.1 510.5 249.7 511.6 246.9 512.9 245.3 514.7 244.6 517.6 244.6 528.1 246.7 550.0 252.4 557.5 254.9 561.5 257.1 563.5 260.0 564.8 264.6 567.4 290.7 569.0 272.0 570.3 264.1 571.1 262.2 572.4 260.7 574.0 260.1 576.0 260.0 587.2 262.4 609.7 269.0 634.0 276.8 651.6 283.2 655.3 284.9 657.4 286.4 658.6 288.1 660.4 291.9 662.5 289.3 664.1 289.0 665.6 289.6 667.0 290.7 669.6 295.5 671.4 293.0 672.4 292.4 674.5 292.6 677.1 293.9 679.4 296.6 681.8 303.2 683.6 298.9 684.9 297.7 687.3 297.6 691.7 299.1 698.0 301.9 702.2 304.3 704.8 306.4 706.7 309.1 707.9 312.8 708.7 317.5 710.7 341.4 712.9 318.7 713.9 314.6 715.2 312.4 716.5 311.9 717.9 312.0 721.0 313.6 722.5 315.8 724.5 321.4 726.4 317.4 728.0 316.4 731.2 317.0 737.8 319.8 753.8 327.7 760.2 331.7 761.7 333.6 762.8 335.8 765.1 345.4 766.7 339.6 767.7 337.4 769.3 336.6 771.9 337.1 778.4 340.0 793.7 347.8 829.6 367.0 833.0 369.7 834.8 372.4 837.7 384.1 839.5 377.0 840.5 375.1 842.3 374.5 845.7 375.4 908.3 407.0 963.5 434.1 966.3 435.8 968.2 437.5 971.0 443.6 973.1 440.5 974.1 440.1 975.5 440.1 982.0 442.7 991.8 447.6 996.0 450.8 998.1 454.6 999.4 460.7 1000.7 473.2 1001.2 475.3 1003.0 461.2 1004.6 456.6 1005.9 455.6 1007.7 455.4 1015.0 457.9 1377.0 618.5 1755.7 789.0"/>
<path d="M181.0 161.6 217.4 169.5 257.3 179.2 293.8 188.9 302.0 191.4 306.7 193.5 308.8 195.1 310.3 197.2 312.1 203.3 313.2 212.5 314.5 237.2 315.0 241.4 316.6 214.5 318.1 202.8 319.2 200.1 320.7 198.6 323.1 198.0 326.7 198.3 345.9 203.1 435.3 228.0 438.7 229.3 440.6 230.6 441.7 232.2 443.5 236.2 446.2 232.4 447.8 232.1 450.1 232.5 452.2 233.5 453.6 235.0 456.1 241.1 458.2 236.8 459.6 235.6 462.5 235.6 467.7 236.9 470.8 238.4 472.6 240.3 473.6 242.5 475.2 249.5 475.7 250.5 477.8 243.1 478.8 241.5 480.1 240.9 482.7 240.8 486.9 241.6 498.8 245.2 502.5 247.6 503.8 249.6 504.5 251.7 505.8 259.0 507.1 274.9 507.7 277.5 510.0 255.4 511.3 251.6 513.4 249.9 517.3 249.7 524.8 251.2 545.5 256.5 557.3 260.1 560.2 261.5 562.0 262.9 563.3 264.8 564.3 267.5 565.6 275.4 566.9 292.5 567.4 295.2 569.0 277.0 570.3 269.4 571.1 267.5 572.4 266.0 574.0 265.4 576.0 265.4 587.2 267.8 609.7 274.4 632.3 281.7 650.6 288.4 655.0 290.4 657.3 292.4 658.6 294.7 660.4 299.9 662.8 295.5 664.1 295.1 665.9 295.9 667.5 298.1 669.6 304.0 671.6 299.3 672.5 298.6 673.7 298.3 676.4 299.1 678.7 300.8 679.7 302.5 681.8 307.9 683.6 304.2 684.9 303.1 687.0 303.2 690.9 304.5 698.0 307.7 702.5 310.5 705.2 313.3 706.9 317.0 708.0 321.7 708.7 328.4 710.7 363.5 712.6 331.1 713.6 323.7 714.7 320.0 715.7 318.7 716.8 318.1 718.4 318.1 720.1 318.6 722.2 320.4 724.5 324.9 726.2 322.6 727.4 321.9 729.2 322.0 732.6 323.2 750.0 331.5 759.6 336.9 761.2 338.3 762.5 340.1 765.1 347.9 766.7 344.0 767.7 342.5 769.3 342.1 771.9 342.8 797.2 355.6 829.3 373.0 832.7 375.7 834.5 378.2 835.6 381.2 837.7 391.3 839.5 383.5 840.5 381.5 842.3 380.8 845.7 381.7 908.3 413.5 963.5 440.8 966.3 442.6 968.2 444.7 971.0 452.5 973.1 447.9 974.1 447.1 975.5 447.0 981.4 449.1 991.8 454.3 996.0 457.5 998.1 461.2 999.4 467.4 1000.7 479.8 1001.2 481.9 1003.0 467.9 1004.6 463.2 1005.9 462.2 1007.7 462.1 1015.0 464.5 1380.4 626.9 1755.7 796.0"/>
</g>
<path d="M181.0 144.0 196.6 142.5 214.0 141.4 231.3 140.7 248.7 140.6 269.5 140.9 290.3 141.9 303.5 143.0 309.0 144.2 310.8 145.5 311.9 147.4 312.7 150.4 313.2 154.5 314.0 169.5 315.0 207.6 316.0 164.7 317.1 151.2 318.1 147.5 319.4 145.8 321.6 145.0 325.4 144.8 340.7 146.0 366.7 149.1 394.5 152.9 422.5 157.3 426.3 158.1 428.2 159.1 429.8 158.8 432.2 159.1 433.4 159.6 434.5 160.6 436.6 160.0 440.4 160.6 442.1 161.4 443.5 163.5 444.8 162.0 445.9 161.7 448.6 161.9 452.5 162.7 453.8 163.3 454.7 164.1 456.1 167.5 457.4 164.9 458.7 164.1 461.5 164.2 467.7 165.3 471.6 166.4 473.4 167.7 474.4 170.0 475.7 176.6 477.0 169.9 477.8 168.5 478.8 168.0 480.9 167.9 484.8 168.5 500.1 171.7 502.5 172.5 503.8 173.4 504.8 174.6 505.6 176.6 506.4 181.4 507.7 198.4 508.4 186.0 509.2 178.8 510.3 175.8 511.8 174.7 515.5 174.7 523.8 176.2 545.5 180.8 558.9 184.1 561.7 185.1 563.5 186.4 564.6 188.0 565.4 190.4 566.1 196.4 567.4 218.5 568.2 202.2 569.0 193.1 569.5 190.7 570.3 189.0 571.3 188.1 572.9 187.8 577.3 188.3 587.2 190.5 620.1 199.2 654.2 209.4 658.4 210.9 660.4 212.2 662.1 212.1 664.9 212.9 667.7 214.2 669.6 216.1 670.6 215.4 671.4 215.3 675.8 216.5 679.7 218.1 681.8 220.3 682.9 219.6 683.9 219.5 689.4 221.2 702.5 226.2 705.4 227.7 707.1 229.1 708.4 231.6 709.3 235.8 710.7 257.8 712.1 237.4 713.1 233.3 714.4 231.9 715.6 231.7 717.3 232.0 721.8 233.8 723.1 235.1 724.5 238.7 725.9 236.1 726.6 235.8 727.7 235.9 733.0 237.6 746.9 243.1 758.1 247.8 762.0 250.0 763.5 252.2 765.1 258.4 765.9 254.8 766.7 253.1 768.0 252.5 770.1 252.9 800.7 265.8 832.2 279.9 834.5 281.6 835.8 283.6 837.7 292.9 838.7 286.8 839.5 284.9 840.8 284.2 843.6 284.9 966.1 338.2 969.2 339.7 971.0 341.1 972.5 341.1 974.4 341.8 993.9 350.2 997.5 352.4 999.1 354.7 999.9 357.7 1001.2 367.4 1002.5 358.0 1003.0 356.5 1004.1 355.6 1005.4 355.5 1007.4 356.0 1017.9 360.2 1186.0 431.6 1342.2 499.3 1529.7 582.1 1755.7 683.2" fill="none" stroke="#000" stroke-width="6.5" stroke-linecap="square" stroke-linejoin="round"/>
<path d="M181.0 144.0 196.6 142.5 214.0 141.4 231.3 140.7 248.7 140.6 269.5 140.9 290.3 141.9 303.5 143.0 309.0 144.2 310.8 145.5 311.9 147.4 312.7 150.4 313.2 154.5 314.0 169.5 315.0 207.6 316.0 164.7 317.1 151.2 318.1 147.5 319.4 145.8 321.6 145.0 325.4 144.8 340.7 146.0 366.7 149.1 394.5 152.9 422.5 157.3 426.3 158.1 428.2 159.1 429.8 158.8 432.2 159.1 433.4 159.6 434.5 160.6 436.6 160.0 440.4 160.6 442.1 161.4 443.5 163.5 444.8 162.0 445.9 161.7 448.6 161.9 452.5 162.7 453.8 163.3 454.7 164.1 456.1 167.5 457.4 164.9 458.7 164.1 461.5 164.2 467.7 165.3 471.6 166.4 473.4 167.7 474.4 170.0 475.7 176.6 477.0 169.9 477.8 168.5 478.8 168.0 480.9 167.9 484.8 168.5 500.1 171.7 502.5 172.5 503.8 173.4 504.8 174.6 505.6 176.6 506.4 181.4 507.7 198.4 508.4 186.0 509.2 178.8 510.3 175.8 511.8 174.7 515.5 174.7 523.8 176.2 545.5 180.8 558.9 184.1 561.7 185.1 563.5 186.4 564.6 188.0 565.4 190.4 566.1 196.4 567.4 218.5 568.2 202.2 569.0 193.1 569.5 190.7 570.3 189.0 571.3 188.1 572.9 187.8 577.3 188.3 587.2 190.5 620.1 199.2 654.2 209.4 658.4 210.9 660.4 212.2 662.1 212.1 664.9 212.9 667.7 214.2 669.6 216.1 670.6 215.4 671.4 215.3 675.8 216.5 679.7 218.1 681.8 220.3 682.9 219.6 683.9 219.5 689.4 221.2 702.5 226.2 705.4 227.7 707.1 229.1 708.4 231.6 709.3 235.8 710.7 257.8 712.1 237.4 713.1 233.3 714.4 231.9 715.6 231.7 717.3 232.0 721.8 233.8 723.1 235.1 724.5 238.7 725.9 236.1 726.6 235.8 727.7 235.9 733.0 237.6 746.9 243.1 758.1 247.8 762.0 250.0 763.5 252.2 765.1 258.4 765.9 254.8 766.7 253.1 768.0 252.5 770.1 252.9 800.7 265.8 832.2 279.9 834.5 281.6 835.8 283.6 837.7 292.9 838.7 286.8 839.5 284.9 840.8 284.2 843.6 284.9 966.1 338.2 969.2 339.7 971.0 341.1 972.5 341.1 974.4 341.8 993.9 350.2 997.5 352.4 999.1 354.7 999.9 357.7 1001.2 367.4 1002.5 358.0 1003.0 356.5 1004.1 355.6 1005.4 355.5 1007.4 356.0 1017.9 360.2 1186.0 431.6 1342.2 499.3 1529.7 582.1 1755.7 683.2" fill="none" stroke="#afeeee" stroke-width="4.2" stroke-linecap="square" stroke-linejoin="round"/>
</g>
<g clip-path="url(#cb)">
<g fill="#a9a9a9" fill-opacity="0.5" stroke="#a9a9a9" stroke-opacity="0.5" stroke-width="4.17" stroke-linejoin="round">
<path d="M205.0 1170.3 273.4 1170.2 277.6 1169.7 280.0 1168.3 282.4 1163.4 284.8 1151.0 287.2 1132.6 291.4 1091.2 293.2 1084.4 296.2 1075.8 296.8 1074.9 300.4 1073.5 305.8 1059.1 311.8 1051.8 316.6 1052.5 320.8 1042.9 325.6 1044.1 333.4 1030.4 337.0 1037.2 337.6 1037.0 343.6 1020.3 349.6 1028.3 350.2 1027.6 353.8 1004.7 358.6 1013.2 359.2 1012.7 365.2 992.3 368.8 1005.0 369.4 1005.0 374.2 989.5 376.6 1002.4 378.4 1024.0 382.6 1124.5 384.4 1152.1 385.6 1161.2 386.8 1165.9 388.0 1168.2 390.4 1169.8 400.0 1170.3 1097.6 1170.3 L1097.6 1170.3 L205.0 1170.3Z"/>
<path d="M205.0 1170.3 374.2 1170.3 378.4 1170.1 380.2 1169.5 381.4 1168.0 382.6 1164.3 384.4 1146.6 388.6 1030.4 389.8 1014.7 391.6 1005.0 392.2 1004.0 392.8 1004.3 395.2 1007.4 399.4 989.5 400.0 988.5 405.4 994.6 412.6 983.2 418.6 985.5 421.6 976.5 422.2 976.1 427.6 986.7 431.2 972.8 431.8 972.2 436.6 981.8 441.4 963.8 442.0 963.1 449.2 971.5 452.2 964.7 452.8 964.5 457.0 971.6 460.6 959.6 461.2 959.7 466.0 969.0 469.6 961.4 470.8 965.9 472.0 975.2 473.8 1008.1 476.8 1115.4 478.0 1144.2 479.8 1163.1 481.0 1167.4 482.2 1169.1 483.4 1169.8 491.2 1170.3 1097.6 1170.3 L1097.6 1170.3 L205.0 1170.3Z"/>
<path d="M205.0 1170.3 460.0 1170.3 466.0 1170.1 468.4 1169.3 470.2 1167.3 471.4 1164.1 473.2 1152.8 475.0 1126.6 479.2 1038.3 481.0 1022.2 484.0 1011.1 488.8 1001.5 493.6 993.1 494.2 992.9 502.0 1010.5 509.8 984.6 516.4 987.0 525.4 966.4 536.2 945.2 548.2 941.8 557.2 931.6 559.6 929.5 560.8 929.2 562.0 930.0 562.6 931.7 563.8 938.4 565.6 960.8 567.4 1008.5 570.4 1113.7 572.2 1148.5 574.0 1162.8 575.8 1167.8 577.6 1169.5 580.6 1170.2 586.6 1170.3 1097.6 1170.3 L1097.6 1170.3 L205.0 1170.3Z"/>
<path d="M205.0 1170.3 454.0 1170.3 460.6 1170.0 463.6 1169.1 466.0 1166.5 467.8 1161.2 470.2 1143.0 472.0 1113.9 476.8 998.0 478.6 974.2 480.4 961.3 482.8 951.7 488.8 937.0 493.0 938.3 497.2 936.2 499.6 932.2 505.0 917.2 505.6 916.4 509.2 915.5 512.8 912.5 514.6 913.0 517.0 914.6 521.2 915.3 523.0 913.1 525.4 908.8 529.0 908.4 532.0 907.2 533.2 908.7 535.0 907.1 535.6 906.8 536.2 907.1 537.4 913.6 538.0 923.3 540.4 1008.2 541.0 1015.6 541.6 1007.3 544.0 916.0 545.2 898.0 546.4 892.6 547.6 891.2 549.4 890.1 557.2 890.4 560.8 892.4 565.0 889.8 567.4 890.6 569.2 890.5 572.8 887.1 577.0 880.0 581.2 881.0 585.4 878.4 588.4 878.3 589.0 879.1 592.6 875.7 593.2 876.0 596.8 887.6 597.4 887.6 601.0 882.1 605.2 874.1 607.0 874.1 608.2 877.1 609.4 890.7 612.4 997.3 613.0 1004.3 614.2 975.8 616.6 880.5 617.8 864.0 619.0 858.9 620.2 857.0 625.0 852.8 629.2 852.2 632.8 847.5 637.0 850.4 640.6 849.0 644.8 848.8 649.0 845.7 656.8 847.8 661.0 845.3 665.2 846.7 673.0 843.9 685.0 843.6 688.6 838.3 689.2 838.0 692.8 843.3 697.0 837.8 701.2 840.4 704.8 840.4 709.0 843.0 713.2 839.6 716.8 840.8 717.4 840.6 721.0 837.5 725.2 840.5 728.8 841.0 733.0 840.8 737.2 835.5 740.8 835.4 745.0 836.3 749.2 831.2 751.0 832.3 753.4 835.7 757.0 839.5 761.2 841.2 764.8 847.0 769.0 849.2 770.2 851.3 770.8 853.2 776.8 906.1 777.4 906.9 784.0 892.8 787.6 863.7 788.8 857.8 793.0 850.7 795.4 844.1 796.6 843.7 797.8 847.0 799.0 860.8 800.2 904.2 803.2 1133.3 804.4 1160.5 805.6 1167.8 806.8 1169.6 808.6 1170.2 812.2 1170.3 1097.6 1170.3 L1097.6 1170.3 L205.0 1170.3Z"/>
<path d="M205.0 1170.3 570.4 1170.3 575.8 1169.8 577.0 1168.5 578.2 1163.7 579.4 1146.6 580.6 1097.8 583.0 942.7 583.6 923.5 584.8 906.1 586.0 901.0 587.2 899.5 588.4 898.9 589.0 899.6 593.2 901.2 596.8 906.2 601.0 897.7 604.6 898.5 605.2 897.9 608.8 888.1 609.4 887.4 613.0 886.5 616.0 883.7 616.6 884.0 617.2 885.6 617.8 889.8 619.0 910.6 620.2 966.9 622.0 1098.9 623.2 1147.1 624.4 1163.7 625.6 1168.5 626.8 1169.8 632.2 1170.3 1097.6 1170.3 L1097.6 1170.3 L205.0 1170.3Z"/>
<path d="M205.0 1170.3 570.4 1170.3 575.8 1169.8 577.0 1168.4 578.2 1163.5 579.4 1146.3 580.6 1098.1 583.0 939.8 584.2 905.5 585.4 893.3 586.6 890.8 588.4 890.1 593.2 896.0 596.8 893.8 601.0 903.9 605.2 886.2 608.8 884.9 613.0 886.4 617.2 875.7 620.8 874.6 625.0 859.9 628.6 859.5 630.4 860.3 637.0 866.8 644.8 864.2 653.2 865.8 658.6 863.8 660.4 863.6 661.6 865.0 662.8 871.4 664.0 893.0 664.6 916.5 667.6 1125.9 668.8 1157.2 670.0 1166.7 670.6 1168.5 671.8 1169.8 677.2 1170.3 1097.6 1170.3 L1097.6 1170.3 L205.0 1170.3Z"/>
<path d="M205.0 1170.3 626.2 1170.3 629.8 1170.2 631.6 1169.6 632.8 1167.5 634.0 1159.8 635.2 1133.8 638.2 925.9 638.8 898.3 640.0 872.2 640.6 867.3 641.8 863.9 643.0 863.8 644.8 864.8 649.0 863.3 653.2 863.7 656.8 859.4 661.0 864.3 665.2 858.9 668.8 857.1 670.6 858.0 671.8 860.4 673.0 868.4 673.6 878.6 674.8 924.5 677.8 1133.4 679.0 1159.5 680.2 1167.4 681.4 1169.5 683.2 1170.2 686.8 1170.3 1097.6 1170.3 L1097.6 1170.3 L205.0 1170.3Z"/>
<path d="M205.0 1170.3 649.5 1170.3 653.0 1170.0 654.5 1167.3 655.5 1159.9 657.0 1124.4 660.5 886.6 661.5 858.3 662.5 886.3 666.0 1124.2 667.5 1159.9 668.5 1167.2 670.0 1170.0 673.5 1170.3 1097.6 1170.3 L1097.6 1170.3 L205.0 1170.3Z"/>
<path d="M205.0 1170.3 667.0 1170.3 670.6 1170.2 672.4 1169.7 673.6 1168.0 674.8 1161.7 676.0 1139.7 677.2 1078.9 679.0 935.2 680.2 883.4 681.4 865.7 682.6 859.6 688.6 850.4 689.2 850.1 692.8 856.8 697.0 859.9 701.2 852.5 705.4 853.4 709.0 853.1 712.6 852.1 713.2 852.3 716.8 858.6 721.0 864.1 724.0 856.9 724.6 857.0 725.2 859.9 726.4 881.5 727.0 904.5 729.4 1086.1 730.6 1142.7 731.8 1162.5 733.0 1168.2 734.2 1169.7 739.6 1170.3 1097.6 1170.3 L1097.6 1170.3 L205.0 1170.3Z"/>
<path d="M205.0 1170.3 698.0 1170.3 701.5 1170.0 703.0 1167.2 704.0 1159.8 705.5 1123.9 709.0 884.1 710.0 855.8 711.0 884.2 714.5 1124.0 716.0 1159.8 717.0 1167.2 718.0 1169.6 719.0 1170.2 721.5 1170.3 1097.6 1170.3 L1097.6 1170.3 L205.0 1170.3Z"/>
<path d="M205.0 1170.3 674.2 1170.3 679.6 1169.8 680.8 1168.6 681.4 1166.9 682.6 1157.9 683.8 1127.4 686.8 905.4 688.0 862.8 689.2 849.7 690.4 846.7 691.6 846.6 697.0 850.7 701.2 852.1 704.8 848.7 709.0 847.3 713.2 854.8 716.8 853.1 721.0 845.1 725.2 847.5 728.8 848.3 733.0 846.5 736.6 847.3 737.2 847.0 741.4 839.2 745.0 835.8 749.2 833.4 751.0 835.6 753.4 840.1 757.0 842.6 761.2 842.9 764.8 844.6 769.0 850.5 770.2 853.2 770.8 856.2 772.0 874.9 773.2 910.8 776.8 1139.8 778.0 1161.5 779.2 1167.9 780.4 1169.7 782.2 1170.2 785.8 1170.3 1097.6 1170.3 L1097.6 1170.3 L205.0 1170.3Z"/>
<path d="M205.0 1170.3 721.0 1170.3 727.0 1169.9 728.2 1168.8 728.8 1167.4 730.0 1159.4 731.2 1132.6 734.2 919.8 735.4 875.1 736.6 860.8 737.8 856.4 740.2 853.5 745.0 851.3 748.6 852.5 751.0 852.1 752.8 853.1 757.0 854.1 761.2 864.8 764.8 859.3 766.6 864.4 767.8 873.2 769.0 896.9 769.6 922.2 772.6 1130.8 773.8 1159.0 775.0 1167.3 776.2 1169.5 778.0 1170.2 781.6 1170.3 1097.6 1170.3 L1097.6 1170.3 L205.0 1170.3Z"/>
<path d="M205.0 1170.3 745.0 1170.3 748.5 1169.8 749.5 1168.2 750.5 1162.8 752.0 1134.2 753.5 1056.9 755.5 901.0 756.5 857.8 757.0 856.7 758.0 896.2 760.0 1051.5 761.5 1131.7 763.0 1162.1 764.0 1168.0 765.0 1169.8 768.5 1170.3 1097.6 1170.3 L1097.6 1170.3 L205.0 1170.3Z"/>
<path d="M205.0 1170.3 790.0 1170.3 797.8 1169.9 799.0 1169.2 800.2 1167.7 801.4 1163.8 803.2 1146.3 805.0 1097.1 807.4 997.4 809.2 956.4 810.4 945.5 811.6 940.8 813.4 938.1 817.0 936.7 822.4 938.1 824.8 939.8 826.6 944.2 827.8 951.9 829.6 982.9 833.8 1136.7 835.6 1160.9 836.8 1166.5 838.6 1169.3 841.0 1170.1 845.2 1170.3 1097.6 1170.3 L1097.6 1170.3 L205.0 1170.3Z"/>
<path d="M205.0 1170.3 799.6 1170.0 801.4 1168.5 802.6 1164.0 803.8 1149.5 805.0 1111.4 806.8 1002.0 808.0 956.3 809.2 939.9 810.4 932.4 811.6 928.5 813.4 924.3 817.0 918.8 821.2 916.4 824.8 913.6 829.0 925.7 833.2 915.8 836.8 913.8 841.0 914.1 845.2 920.8 853.0 909.1 857.2 921.4 860.8 913.4 865.0 909.4 868.6 914.8 869.2 915.1 872.8 909.5 873.4 909.7 877.0 914.6 881.2 911.5 884.8 909.8 889.0 903.8 893.2 902.7 896.8 896.0 897.4 896.1 898.6 898.0 899.8 902.3 901.6 927.4 905.2 1133.7 906.4 1159.5 907.0 1164.6 908.2 1168.8 910.0 1170.1 913.0 1170.3 1097.6 1170.3 L1097.6 1170.3 L205.0 1170.3Z"/>
<path d="M205.0 1170.3 854.2 1170.3 860.2 1169.9 861.4 1168.8 862.6 1164.6 863.8 1150.1 865.0 1107.4 867.4 961.3 868.0 942.1 869.2 924.6 870.4 918.3 872.8 914.1 877.0 913.4 880.6 917.1 881.2 917.1 884.8 910.8 889.0 906.4 892.6 910.5 893.2 910.6 899.8 898.3 901.0 896.4 901.6 896.3 902.8 897.4 904.0 903.5 905.2 926.4 908.8 1137.3 910.0 1160.7 910.6 1165.2 911.8 1168.9 913.6 1170.1 916.6 1170.3 1097.6 1170.3 L1097.6 1170.3 L205.0 1170.3Z"/>
<path d="M205.0 1170.3 793.6 1170.3 799.6 1169.8 800.8 1168.5 802.0 1164.1 803.2 1149.9 804.4 1111.7 807.4 946.8 808.6 924.9 809.2 920.5 810.4 917.1 813.4 914.3 817.0 907.3 821.2 913.0 824.8 913.7 829.0 909.0 836.8 911.2 841.0 907.0 844.6 906.2 845.2 906.4 848.8 911.6 849.4 911.6 857.2 905.4 860.8 908.1 865.0 901.8 869.2 904.4 873.4 902.2 877.0 901.6 881.2 902.1 884.8 898.5 889.0 897.5 893.2 894.6 897.4 887.8 901.0 885.0 905.2 882.7 908.8 878.1 913.0 871.2 917.2 869.4 920.8 865.5 925.0 857.7 929.2 855.1 932.8 851.8 937.0 840.3 940.6 841.9 941.2 841.7 945.4 834.3 949.0 829.7 953.2 826.3 957.4 818.9 961.0 816.5 965.2 817.4 968.8 818.9 973.0 812.3 977.2 814.6 981.4 809.8 985.0 809.2 989.2 810.3 992.8 809.0 997.6 813.5 999.4 818.3 1000.6 829.2 1001.2 841.5 1002.4 896.7 1004.8 1102.7 1006.0 1149.5 1006.6 1159.3 1007.8 1167.3 1009.0 1169.5 1012.0 1170.3 1097.6 1170.3 L1097.6 1170.3 L205.0 1170.3Z"/>
<path d="M205.0 1170.3 908.0 1170.1 909.5 1168.4 910.5 1163.7 912.0 1140.8 915.5 985.6 916.5 966.5 917.5 984.0 921.0 1139.7 922.5 1163.3 924.0 1169.3 925.0 1170.1 927.5 1170.3 1097.6 1170.3 L1097.6 1170.3 L205.0 1170.3Z"/>
<path d="M205.0 1170.3 904.0 1170.3 910.0 1170.0 911.2 1169.0 911.8 1167.7 913.0 1160.7 914.2 1137.0 917.2 945.6 919.0 892.6 920.2 882.9 921.4 879.3 925.0 879.2 929.2 870.4 932.8 864.2 937.6 858.9 940.0 857.0 940.6 857.0 941.2 857.8 942.4 864.8 943.6 888.9 947.2 1128.4 948.4 1158.0 949.0 1163.8 950.2 1168.6 952.0 1170.1 955.0 1170.3 1097.6 1170.3 L1097.6 1170.3 L205.0 1170.3Z"/>
<path d="M205.0 1170.3 893.2 1170.3 899.2 1169.9 900.4 1168.6 901.6 1164.0 902.8 1147.6 904.0 1099.6 906.4 931.7 907.6 894.7 908.2 886.5 909.4 878.9 910.6 876.1 917.2 866.8 925.0 863.9 932.8 848.1 937.0 842.4 941.2 833.4 944.8 835.1 949.0 830.2 953.8 826.2 956.8 824.9 961.0 818.7 968.8 816.7 973.0 816.8 976.6 812.1 977.2 811.8 980.8 812.5 985.0 807.6 987.4 808.4 988.6 809.3 989.8 813.1 991.0 824.0 991.6 835.9 992.8 889.0 995.8 1127.5 997.0 1157.9 998.2 1167.0 999.4 1169.4 1002.4 1170.3 1097.6 1170.3 L1097.6 1170.3 L205.0 1170.3Z"/>
<path d="M205.0 1170.3 925.6 1170.3 931.6 1169.9 932.8 1168.6 933.4 1167.1 934.6 1158.3 935.8 1128.9 938.8 912.9 939.4 886.1 940.6 860.6 941.8 853.3 943.0 851.8 944.8 851.8 945.4 851.3 949.0 846.5 956.8 828.5 957.4 828.8 961.0 835.9 968.8 827.1 971.2 829.2 973.6 833.1 974.8 839.3 975.4 847.4 976.6 888.4 979.6 1120.5 980.8 1155.5 981.4 1162.5 982.6 1168.2 983.8 1169.7 986.8 1170.3 1097.6 1170.3 L1097.6 1170.3 L205.0 1170.3Z"/>
<path d="M205.0 1170.3 988.5 1170.3 992.5 1170.0 994.0 1167.4 995.0 1160.4 996.5 1126.6 1000.0 901.3 1001.0 874.9 1002.0 901.7 1005.5 1126.9 1006.5 1153.4 1008.0 1167.4 1009.0 1169.6 1011.0 1170.3 1097.6 1170.3 L1097.6 1170.3 L205.0 1170.3Z"/>
<path d="M205.0 1170.3 976.6 1170.0 978.4 1168.2 979.6 1162.6 980.8 1142.7 982.0 1084.6 984.4 884.2 985.6 842.1 986.2 833.6 987.4 826.8 990.4 823.3 992.8 821.5 997.0 827.7 1000.6 830.9 1001.2 831.0 1004.8 824.5 1005.4 824.7 1009.0 829.7 1012.6 825.8 1013.2 825.7 1016.8 832.9 1018.6 831.7 1019.2 832.0 1020.4 837.6 1021.6 864.6 1022.2 894.4 1025.2 1126.6 1026.4 1157.5 1027.6 1166.8 1028.8 1169.4 1030.0 1170.1 1031.8 1170.3 1097.6 1170.3 L1097.6 1170.3 L205.0 1170.3Z"/>
<path d="M205.0 1170.3 999.4 1170.3 1005.4 1169.9 1006.6 1168.8 1007.2 1167.5 1008.4 1160.0 1009.6 1134.3 1012.6 912.6 1013.2 880.5 1014.4 849.5 1015.0 843.4 1016.2 838.4 1016.8 837.6 1017.4 837.7 1021.0 842.3 1024.6 827.7 1025.2 826.7 1027.0 833.5 1028.2 841.2 1030.0 874.5 1033.6 1124.3 1034.8 1156.8 1036.0 1166.6 1037.2 1169.3 1039.6 1170.2 1097.6 1170.3 L1097.6 1170.3 L205.0 1170.3Z"/>
<path d="M205.0 1170.3 965.8 1170.3 972.4 1170.2 975.4 1169.7 976.6 1169.0 977.8 1167.4 979.6 1160.8 980.8 1149.7 982.0 1127.5 983.8 1059.0 986.8 894.5 988.6 841.3 989.8 825.5 991.0 817.9 992.8 814.0 995.2 813.1 1010.2 817.0 1027.6 822.8 1042.0 840.0 1055.8 862.1 1065.4 881.5 1068.4 889.3 1070.8 899.0 1072.6 910.1 1075.0 937.5 1076.8 975.2 1081.0 1103.1 1082.2 1128.8 1084.0 1151.9 1085.8 1162.5 1087.0 1166.0 1088.2 1167.9 1091.2 1169.8 1097.6 1170.3 L1097.6 1170.3 L205.0 1170.3Z"/>
<path d="M205.0 1170.3 1030.0 1170.3 1036.0 1169.9 1037.2 1168.7 1037.8 1167.3 1039.0 1159.3 1040.2 1132.3 1043.2 922.9 1044.4 880.4 1045.6 867.2 1046.8 863.4 1048.6 862.5 1050.4 865.4 1055.8 877.8 1057.0 884.6 1057.6 893.0 1059.4 954.8 1061.8 1118.5 1063.0 1154.4 1064.2 1165.9 1065.4 1169.1 1067.2 1170.1 1097.6 1170.3 L1097.6 1170.3 L205.0 1170.3Z"/>
<path d="M205.0 1170.3 1039.5 1170.2 1040.5 1169.8 1041.5 1168.0 1042.5 1162.6 1044.0 1136.5 1047.5 965.5 1048.5 946.4 1049.5 967.6 1052.5 1121.9 1053.5 1149.7 1055.0 1166.3 1056.0 1169.2 1058.0 1170.3 1097.6 1170.3 L1097.6 1170.3 L205.0 1170.3Z"/>
<path d="M205.0 1170.3 1046.0 1170.2 1047.0 1169.8 1048.0 1168.1 1049.0 1162.9 1050.5 1137.6 1054.0 972.2 1055.0 953.7 1056.0 974.2 1059.0 1123.7 1060.0 1150.5 1061.5 1166.5 1062.5 1169.3 1064.5 1170.3 1097.6 1170.3 L1097.6 1170.3 L205.0 1170.3Z"/>
<path d="M205.0 1170.3 1042.0 1170.3 1048.0 1169.9 1049.2 1168.8 1050.4 1164.8 1051.6 1150.7 1052.8 1107.9 1055.8 911.5 1057.0 889.0 1057.6 885.0 1058.8 882.6 1060.0 883.0 1061.2 884.5 1064.8 895.2 1065.4 895.9 1067.8 896.3 1069.0 897.3 1073.8 919.2 1075.0 928.5 1076.8 975.4 1079.2 1119.9 1079.8 1141.6 1081.0 1162.1 1082.2 1168.1 1083.4 1169.7 1085.8 1170.3 1097.6 1170.3 L1097.6 1170.3 L205.0 1170.3Z"/>
<path d="M1060.0 1170.3 1076.2 1169.9 1078.6 1168.2 1080.4 1163.6 1081.6 1156.1 1082.8 1141.9 1086.4 1060.1 1088.2 1029.7 1090.0 1015.0 1093.0 1004.3 1094.8 1000.1 1095.4 999.9 1102.6 1022.1 1103.2 1022.6 1111.6 993.2 1112.2 993.5 1118.2 1008.5 1124.8 971.7 1125.4 971.5 1129.0 980.5 1129.6 981.1 1138.0 963.3 1138.6 963.0 1141.0 964.1 1145.8 979.6 1149.4 972.4 1151.2 969.8 1152.4 973.7 1154.2 983.1 1156.6 1000.1 1158.4 1019.5 1165.6 1129.1 1167.4 1146.1 1169.8 1159.2 1172.2 1165.4 1174.0 1167.7 1175.8 1168.9 1180.6 1170.1 1192.0 1170.3 L1192.0 1170.3 L1060.0 1170.3Z"/>
<path d="M1159.0 1170.3 1167.4 1170.0 1169.2 1169.5 1171.0 1168.3 1173.4 1163.9 1175.2 1155.3 1177.6 1128.6 1181.8 1042.1 1184.2 1007.8 1186.6 990.5 1187.8 993.2 1189.6 1000.6 1190.2 1000.1 1194.4 953.1 1198.6 965.5 1199.2 966.3 1202.8 968.1 1203.4 967.6 1210.0 946.2 1218.4 944.1 1222.6 941.0 1223.2 941.3 1227.4 952.9 1231.6 936.0 1232.2 936.1 1238.2 950.2 1243.0 936.2 1251.4 933.1 1255.6 938.0 1256.2 938.1 1260.4 929.7 1267.0 933.0 1271.8 933.1 1277.2 941.3 1279.0 940.0 1280.2 939.8 1282.0 945.9 1284.4 962.0 1286.2 984.3 1292.2 1119.2 1293.4 1137.6 1295.2 1154.6 1297.0 1163.1 1298.2 1166.1 1300.0 1168.4 1301.8 1169.5 1304.2 1170.0 1316.0 1170.3 L1316.0 1170.3 L1159.0 1170.3Z"/>
<path d="M1289.0 1169.2 1290.8 1167.8 1292.0 1166.0 1293.8 1160.7 1295.6 1149.8 1296.8 1137.1 1298.6 1107.2 1304.0 986.3 1306.4 954.8 1308.8 936.5 1309.4 935.6 1311.2 935.7 1315.4 939.7 1324.4 927.5 1332.8 929.6 1340.6 932.9 1346.6 923.1 1352.6 922.1 1359.2 918.3 1359.8 918.9 1362.2 925.3 1364.6 934.6 1366.4 946.3 1367.6 959.9 1369.4 993.4 1374.2 1121.8 1375.4 1141.0 1377.2 1157.4 1379.0 1164.9 1380.2 1167.3 1382.0 1169.1 1386.2 1170.1 1397.0 1170.3 L1397.0 1170.3 L1289.0 1170.3Z"/>
<path d="M1377.0 1141.6 1380.6 1003.3 1381.8 977.9 1383.0 966.8 1384.2 963.7 1385.4 963.1 1387.8 963.7 1390.2 962.5 1391.4 962.9 1392.6 966.1 1393.2 970.5 1394.4 988.2 1398.0 1127.9 1399.8 1160.4 1401.0 1166.9 1402.8 1169.6 1405.8 1170.3 1420.0 1170.3 L1420.0 1170.3 L1377.0 1170.3Z"/>
<path d="M1397.0 1111.1 1401.2 991.9 1403.0 970.4 1404.2 964.0 1405.4 960.7 1407.2 958.4 1410.8 956.8 1421.0 964.6 1421.6 964.5 1428.2 957.8 1439.6 957.8 1452.2 970.2 1458.8 970.3 1461.8 971.3 1463.6 974.9 1465.4 981.3 1467.2 993.1 1468.4 1005.9 1474.4 1121.2 1476.8 1150.5 1478.6 1161.0 1480.4 1166.1 1482.8 1168.9 1486.0 1170.0 L1486.0 1170.3 L1397.0 1170.3Z"/>
<path d="M1430.0 1170.2 1436.6 1169.2 1440.2 1166.7 1442.0 1163.9 1443.2 1160.9 1445.6 1150.7 1447.4 1137.4 1449.2 1118.0 1455.8 1025.3 1458.2 1003.8 1460.6 991.2 1462.4 985.5 1466.6 975.7 1475.6 959.1 1489.4 945.2 1496.0 947.3 1496.6 947.9 1503.2 964.3 1510.4 972.7 1516.4 967.1 1519.4 965.1 1521.2 967.3 1522.4 970.3 1524.8 983.2 1526.6 1004.8 1532.0 1125.2 1533.2 1142.8 1535.0 1158.1 1536.8 1165.2 1538.0 1167.5 1539.8 1169.1 1544.0 1170.2 1554.0 1170.3 L1554.0 1170.3 L1430.0 1170.3Z"/>
<path d="M1492.0 1170.3 1524.4 1170.0 1527.4 1168.5 1529.2 1164.9 1531.0 1154.6 1532.8 1128.5 1537.0 1008.1 1538.8 978.9 1540.0 969.5 1541.8 963.1 1544.2 960.1 1549.6 957.8 1563.4 963.6 1572.4 962.0 1573.0 962.3 1575.4 967.0 1578.4 974.4 1582.0 988.7 1585.0 1010.6 1587.4 1038.2 1593.4 1125.2 1595.2 1142.5 1597.6 1156.7 1598.8 1160.9 1600.6 1165.0 1602.4 1167.4 1604.2 1168.7 1609.6 1170.0 1623.0 1170.3 L1623.0 1170.3 L1492.0 1170.3Z"/>
<path d="M1541.0 1170.3 1554.2 1170.0 1559.6 1168.8 1561.4 1167.6 1563.2 1165.4 1565.0 1161.5 1566.2 1157.5 1568.6 1144.0 1570.4 1127.4 1578.2 1019.3 1580.0 1003.8 1582.4 993.7 1584.8 989.6 1587.2 988.6 1590.2 989.3 1595.6 992.4 1596.2 992.3 1609.4 977.9 1610.0 977.8 1620.2 994.8 1628.6 981.0 1637.0 981.1 1637.6 981.2 1640.6 984.0 1644.2 988.3 1646.0 991.6 1647.8 996.8 1650.2 1010.1 1652.0 1029.0 1656.8 1116.6 1658.6 1141.7 1660.4 1156.4 1662.8 1165.4 1665.2 1168.6 1668.8 1170.0 1697.0 1170.3 L1697.0 1170.3 L1541.0 1170.3Z"/>
<path d="M1623.0 1170.3 1651.2 1169.9 1653.0 1169.4 1654.8 1168.2 1657.2 1163.5 1659.0 1154.8 1660.8 1137.8 1665.0 1071.8 1666.8 1050.8 1668.0 1041.7 1669.8 1033.1 1671.0 1031.8 1672.2 1031.5 1675.8 1033.0 1683.6 1038.7 1695.6 1055.7 1704.6 1075.8 1711.8 1095.0 1734.6 1147.5 1741.8 1152.3 1755.0 1165.5 1756.6 1166.0 L1756.6 1170.3 L1623.0 1170.3Z"/>
</g>
<g fill="none" stroke="#696969" stroke-width="6.25" stroke-linejoin="round" stroke-linecap="square">
<path d="M205.0 1170.3 273.4 1170.2 277.6 1169.7 280.0 1168.3 282.4 1163.4 284.8 1151.0 287.2 1132.6 291.4 1091.2 293.2 1084.4 296.2 1075.8 296.8 1074.9 300.4 1073.5 305.8 1059.1 311.8 1051.8 316.6 1052.5 320.8 1042.9 325.6 1044.1 333.4 1030.4 337.0 1037.2 337.6 1037.0 343.6 1020.3 349.6 1028.3 350.2 1027.6 353.8 1004.7 358.6 1013.2 359.2 1012.7 365.2 992.3 368.8 1005.0 369.4 1005.0 374.2 989.5 376.6 1002.4 378.4 1024.0 382.6 1124.5 384.4 1152.1 385.6 1161.2 386.8 1165.9 388.0 1168.2 390.4 1169.8 400.0 1170.3 1097.6 1170.3"/>
<path d="M205.0 1170.3 374.2 1170.3 378.4 1170.1 380.2 1169.5 381.4 1168.0 382.6 1164.3 384.4 1146.6 388.6 1030.4 389.8 1014.7 391.6 1005.0 392.2 1004.0 392.8 1004.3 395.2 1007.4 399.4 989.5 400.0 988.5 405.4 994.6 412.6 983.2 418.6 985.5 421.6 976.5 422.2 976.1 427.6 986.7 431.2 972.8 431.8 972.2 436.6 981.8 441.4 963.8 442.0 963.1 449.2 971.5 452.2 964.7 452.8 964.5 457.0 971.6 460.6 959.6 461.2 959.7 466.0 969.0 469.6 961.4 470.8 965.9 472.0 975.2 473.8 1008.1 476.8 1115.4 478.0 1144.2 479.8 1163.1 481.0 1167.4 482.2 1169.1 483.4 1169.8 491.2 1170.3 1097.6 1170.3"/>
<path d="M205.0 1170.3 460.0 1170.3 466.0 1170.1 468.4 1169.3 470.2 1167.3 471.4 1164.1 473.2 1152.8 475.0 1126.6 479.2 1038.3 481.0 1022.2 484.0 1011.1 488.8 1001.5 493.6 993.1 494.2 992.9 502.0 1010.5 509.8 984.6 516.4 987.0 525.4 966.4 536.2 945.2 548.2 941.8 557.2 931.6 559.6 929.5 560.8 929.2 562.0 930.0 562.6 931.7 563.8 938.4 565.6 960.8 567.4 1008.5 570.4 1113.7 572.2 1148.5 574.0 1162.8 575.8 1167.8 577.6 1169.5 580.6 1170.2 586.6 1170.3 1097.6 1170.3"/>
<path d="M205.0 1170.3 454.0 1170.3 460.6 1170.0 463.6 1169.1 466.0 1166.5 467.8 1161.2 470.2 1143.0 472.0 1113.9 476.8 998.0 478.6 974.2 480.4 961.3 482.8 951.7 488.8 937.0 493.0 938.3 497.2 936.2 499.6 932.2 505.0 917.2 505.6 916.4 509.2 915.5 512.8 912.5 514.6 913.0 517.0 914.6 521.2 915.3 523.0 913.1 525.4 908.8 529.0 908.4 532.0 907.2 533.2 908.7 535.0 907.1 535.6 906.8 536.2 907.1 537.4 913.6 538.0 923.3 540.4 1008.2 541.0 1015.6 541.6 1007.3 544.0 916.0 545.2 898.0 546.4 892.6 547.6 891.2 549.4 890.1 557.2 890.4 560.8 892.4 565.0 889.8 567.4 890.6 569.2 890.5 572.8 887.1 577.0 880.0 581.2 881.0 585.4 878.4 588.4 878.3 589.0 879.1 592.6 875.7 593.2 876.0 596.8 887.6 597.4 887.6 601.0 882.1 605.2 874.1 607.0 874.1 608.2 877.1 609.4 890.7 612.4 997.3 613.0 1004.3 614.2 975.8 616.6 880.5 617.8 864.0 619.0 858.9 620.2 857.0 625.0 852.8 629.2 852.2 632.8 847.5 637.0 850.4 640.6 849.0 644.8 848.8 649.0 845.7 656.8 847.8 661.0 845.3 665.2 846.7 673.0 843.9 685.0 843.6 688.6 838.3 689.2 838.0 692.8 843.3 697.0 837.8 701.2 840.4 704.8 840.4 709.0 843.0 713.2 839.6 716.8 840.8 717.4 840.6 721.0 837.5 725.2 840.5 728.8 841.0 733.0 840.8 737.2 835.5 740.8 835.4 745.0 836.3 749.2 831.2 751.0 832.3 753.4 835.7 757.0 839.5 761.2 841.2 764.8 847.0 769.0 849.2 770.2 851.3 770.8 853.2 776.8 906.1 777.4 906.9 784.0 892.8 787.6 863.7 788.8 857.8 793.0 850.7 795.4 844.1 796.6 843.7 797.8 847.0 799.0 860.8 800.2 904.2 803.2 1133.3 804.4 1160.5 805.6 1167.8 806.8 1169.6 808.6 1170.2 812.2 1170.3 1097.6 1170.3"/>
<path d="M205.0 1170.3 570.4 1170.3 575.8 1169.8 577.0 1168.5 578.2 1163.7 579.4 1146.6 580.6 1097.8 583.0 942.7 583.6 923.5 584.8 906.1 586.0 901.0 587.2 899.5 588.4 898.9 589.0 899.6 593.2 901.2 596.8 906.2 601.0 897.7 604.6 898.5 605.2 897.9 608.8 888.1 609.4 887.4 613.0 886.5 616.0 883.7 616.6 884.0 617.2 885.6 617.8 889.8 619.0 910.6 620.2 966.9 622.0 1098.9 623.2 1147.1 624.4 1163.7 625.6 1168.5 626.8 1169.8 632.2 1170.3 1097.6 1170.3"/>
<path d="M205.0 1170.3 570.4 1170.3 575.8 1169.8 577.0 1168.4 578.2 1163.5 579.4 1146.3 580.6 1098.1 583.0 939.8 584.2 905.5 585.4 893.3 586.6 890.8 588.4 890.1 593.2 896.0 596.8 893.8 601.0 903.9 605.2 886.2 608.8 884.9 613.0 886.4 617.2 875.7 620.8 874.6 625.0 859.9 628.6 859.5 630.4 860.3 637.0 866.8 644.8 864.2 653.2 865.8 658.6 863.8 660.4 863.6 661.6 865.0 662.8 871.4 664.0 893.0 664.6 916.5 667.6 1125.9 668.8 1157.2 670.0 1166.7 670.6 1168.5 671.8 1169.8 677.2 1170.3 1097.6 1170.3"/>
<path d="M205.0 1170.3 626.2 1170.3 629.8 1170.2 631.6 1169.6 632.8 1167.5 634.0 1159.8 635.2 1133.8 638.2 925.9 638.8 898.3 640.0 872.2 640.6 867.3 641.8 863.9 643.0 863.8 644.8 864.8 649.0 863.3 653.2 863.7 656.8 859.4 661.0 864.3 665.2 858.9 668.8 857.1 670.6 858.0 671.8 860.4 673.0 868.4 673.6 878.6 674.8 924.5 677.8 1133.4 679.0 1159.5 680.2 1167.4 681.4 1169.5 683.2 1170.2 686.8 1170.3 1097.6 1170.3"/>
<path d="M205.0 1170.3 649.5 1170.3 653.0 1170.0 654.5 1167.3 655.5 1159.9 657.0 1124.4 660.5 886.6 661.5 858.3 662.5 886.3 666.0 1124.2 667.5 1159.9 668.5 1167.2 670.0 1170.0 673.5 1170.3 1097.6 1170.3"/>
<path d="M205.0 1170.3 667.0 1170.3 670.6 1170.2 672.4 1169.7 673.6 1168.0 674.8 1161.7 676.0 1139.7 677.2 1078.9 679.0 935.2 680.2 883.4 681.4 865.7 682.6 859.6 688.6 850.4 689.2 850.1 692.8 856.8 697.0 859.9 701.2 852.5 705.4 853.4 709.0 853.1 712.6 852.1 713.2 852.3 716.8 858.6 721.0 864.1 724.0 856.9 724.6 857.0 725.2 859.9 726.4 881.5 727.0 904.5 729.4 1086.1 730.6 1142.7 731.8 1162.5 733.0 1168.2 734.2 1169.7 739.6 1170.3 1097.6 1170.3"/>
<path d="M205.0 1170.3 698.0 1170.3 701.5 1170.0 703.0 1167.2 704.0 1159.8 705.5 1123.9 709.0 884.1 710.0 855.8 711.0 884.2 714.5 1124.0 716.0 1159.8 717.0 1167.2 718.0 1169.6 719.0 1170.2 721.5 1170.3 1097.6 1170.3"/>
<path d="M205.0 1170.3 674.2 1170.3 679.6 1169.8 680.8 1168.6 681.4 1166.9 682.6 1157.9 683.8 1127.4 686.8 905.4 688.0 862.8 689.2 849.7 690.4 846.7 691.6 846.6 697.0 850.7 701.2 852.1 704.8 848.7 709.0 847.3 713.2 854.8 716.8 853.1 721.0 845.1 725.2 847.5 728.8 848.3 733.0 846.5 736.6 847.3 737.2 847.0 741.4 839.2 745.0 835.8 749.2 833.4 751.0 835.6 753.4 840.1 757.0 842.6 761.2 842.9 764.8 844.6 769.0 850.5 770.2 853.2 770.8 856.2 772.0 874.9 773.2 910.8 776.8 1139.8 778.0 1161.5 779.2 1167.9 780.4 1169.7 782.2 1170.2 785.8 1170.3 1097.6 1170.3"/>
<path d="M205.0 1170.3 721.0 1170.3 727.0 1169.9 728.2 1168.8 728.8 1167.4 730.0 1159.4 731.2 1132.6 734.2 919.8 735.4 875.1 736.6 860.8 737.8 856.4 740.2 853.5 745.0 851.3 748.6 852.5 751.0 852.1 752.8 853.1 757.0 854.1 761.2 864.8 764.8 859.3 766.6 864.4 767.8 873.2 769.0 896.9 769.6 922.2 772.6 1130.8 773.8 1159.0 775.0 1167.3 776.2 1169.5 778.0 1170.2 781.6 1170.3 1097.6 1170.3"/>
<path d="M205.0 1170.3 745.0 1170.3 748.5 1169.8 749.5 1168.2 750.5 1162.8 752.0 1134.2 753.5 1056.9 755.5 901.0 756.5 857.8 757.0 856.7 758.0 896.2 760.0 1051.5 761.5 1131.7 763.0 1162.1 764.0 1168.0 765.0 1169.8 768.5 1170.3 1097.6 1170.3"/>
<path d="M205.0 1170.3 790.0 1170.3 797.8 1169.9 799.0 1169.2 800.2 1167.7 801.4 1163.8 803.2 1146.3 805.0 1097.1 807.4 997.4 809.2 956.4 810.4 945.5 811.6 940.8 813.4 938.1 817.0 936.7 822.4 938.1 824.8 939.8 826.6 944.2 827.8 951.9 829.6 982.9 833.8 1136.7 835.6 1160.9 836.8 1166.5 838.6 1169.3 841.0 1170.1 845.2 1170.3 1097.6 1170.3"/>
<path d="M205.0 1170.3 799.6 1170.0 801.4 1168.5 802.6 1164.0 803.8 1149.5 805.0 1111.4 806.8 1002.0 808.0 956.3 809.2 939.9 810.4 932.4 811.6 928.5 813.4 924.3 817.0 918.8 821.2 916.4 824.8 913.6 829.0 925.7 833.2 915.8 836.8 913.8 841.0 914.1 845.2 920.8 853.0 909.1 857.2 921.4 860.8 913.4 865.0 909.4 868.6 914.8 869.2 915.1 872.8 909.5 873.4 909.7 877.0 914.6 881.2 911.5 884.8 909.8 889.0 903.8 893.2 902.7 896.8 896.0 897.4 896.1 898.6 898.0 899.8 902.3 901.6 927.4 905.2 1133.7 906.4 1159.5 907.0 1164.6 908.2 1168.8 910.0 1170.1 913.0 1170.3 1097.6 1170.3"/>
<path d="M205.0 1170.3 854.2 1170.3 860.2 1169.9 861.4 1168.8 862.6 1164.6 863.8 1150.1 865.0 1107.4 867.4 961.3 868.0 942.1 869.2 924.6 870.4 918.3 872.8 914.1 877.0 913.4 880.6 917.1 881.2 917.1 884.8 910.8 889.0 906.4 892.6 910.5 893.2 910.6 899.8 898.3 901.0 896.4 901.6 896.3 902.8 897.4 904.0 903.5 905.2 926.4 908.8 1137.3 910.0 1160.7 910.6 1165.2 911.8 1168.9 913.6 1170.1 916.6 1170.3 1097.6 1170.3"/>
<path d="M205.0 1170.3 793.6 1170.3 799.6 1169.8 800.8 1168.5 802.0 1164.1 803.2 1149.9 804.4 1111.7 807.4 946.8 808.6 924.9 809.2 920.5 810.4 917.1 813.4 914.3 817.0 907.3 821.2 913.0 824.8 913.7 829.0 909.0 836.8 911.2 841.0 907.0 844.6 906.2 845.2 906.4 848.8 911.6 849.4 911.6 857.2 905.4 860.8 908.1 865.0 901.8 869.2 904.4 873.4 902.2 877.0 901.6 881.2 902.1 884.8 898.5 889.0 897.5 893.2 894.6 897.4 887.8 901.0 885.0 905.2 882.7 908.8 878.1 913.0 871.2 917.2 869.4 920.8 865.5 925.0 857.7 929.2 855.1 932.8 851.8 937.0 840.3 940.6 841.9 941.2 841.7 945.4 834.3 949.0 829.7 953.2 826.3 957.4 818.9 961.0 816.5 965.2 817.4 968.8 818.9 973.0 812.3 977.2 814.6 981.4 809.8 985.0 809.2 989.2 810.3 992.8 809.0 997.6 813.5 999.4 818.3 1000.6 829.2 1001.2 841.5 1002.4 896.7 1004.8 1102.7 1006.0 1149.5 1006.6 1159.3 1007.8 1167.3 1009.0 1169.5 1012.0 1170.3 1097.6 1170.3"/>
<path d="M205.0 1170.3 908.0 1170.1 909.5 1168.4 910.5 1163.7 912.0 1140.8 915.5 985.6 916.5 966.5 917.5 984.0 921.0 1139.7 922.5 1163.3 924.0 1169.3 925.0 1170.1 927.5 1170.3 1097.6 1170.3"/>
<path d="M205.0 1170.3 904.0 1170.3 910.0 1170.0 911.2 1169.0 911.8 1167.7 913.0 1160.7 914.2 1137.0 917.2 945.6 919.0 892.6 920.2 882.9 921.4 879.3 925.0 879.2 929.2 870.4 932.8 864.2 937.6 858.9 940.0 857.0 940.6 857.0 941.2 857.8 942.4 864.8 943.6 888.9 947.2 1128.4 948.4 1158.0 949.0 1163.8 950.2 1168.6 952.0 1170.1 955.0 1170.3 1097.6 1170.3"/>
<path d="M205.0 1170.3 893.2 1170.3 899.2 1169.9 900.4 1168.6 901.6 1164.0 902.8 1147.6 904.0 1099.6 906.4 931.7 907.6 894.7 908.2 886.5 909.4 878.9 910.6 876.1 917.2 866.8 925.0 863.9 932.8 848.1 937.0 842.4 941.2 833.4 944.8 835.1 949.0 830.2 953.8 826.2 956.8 824.9 961.0 818.7 968.8 816.7 973.0 816.8 976.6 812.1 977.2 811.8 980.8 812.5 985.0 807.6 987.4 808.4 988.6 809.3 989.8 813.1 991.0 824.0 991.6 835.9 992.8 889.0 995.8 1127.5 997.0 1157.9 998.2 1167.0 999.4 1169.4 1002.4 1170.3 1097.6 1170.3"/>
<path d="M205.0 1170.3 925.6 1170.3 931.6 1169.9 932.8 1168.6 933.4 1167.1 934.6 1158.3 935.8 1128.9 938.8 912.9 939.4 886.1 940.6 860.6 941.8 853.3 943.0 851.8 944.8 851.8 945.4 851.3 949.0 846.5 956.8 828.5 957.4 828.8 961.0 835.9 968.8 827.1 971.2 829.2 973.6 833.1 974.8 839.3 975.4 847.4 976.6 888.4 979.6 1120.5 980.8 1155.5 981.4 1162.5 982.6 1168.2 983.8 1169.7 986.8 1170.3 1097.6 1170.3"/>
<path d="M205.0 1170.3 988.5 1170.3 992.5 1170.0 994.0 1167.4 995.0 1160.4 996.5 1126.6 1000.0 901.3 1001.0 874.9 1002.0 901.7 1005.5 1126.9 1006.5 1153.4 1008.0 1167.4 1009.0 1169.6 1011.0 1170.3 1097.6 1170.3"/>
<path d="M205.0 1170.3 976.6 1170.0 978.4 1168.2 979.6 1162.6 980.8 1142.7 982.0 1084.6 984.4 884.2 985.6 842.1 986.2 833.6 987.4 826.8 990.4 823.3 992.8 821.5 997.0 827.7 1000.6 830.9 1001.2 831.0 1004.8 824.5 1005.4 824.7 1009.0 829.7 1012.6 825.8 1013.2 825.7 1016.8 832.9 1018.6 831.7 1019.2 832.0 1020.4 837.6 1021.6 864.6 1022.2 894.4 1025.2 1126.6 1026.4 1157.5 1027.6 1166.8 1028.8 1169.4 1030.0 1170.1 1031.8 1170.3 1097.6 1170.3"/>
<path d="M205.0 1170.3 999.4 1170.3 1005.4 1169.9 1006.6 1168.8 1007.2 1167.5 1008.4 1160.0 1009.6 1134.3 1012.6 912.6 1013.2 880.5 1014.4 849.5 1015.0 843.4 1016.2 838.4 1016.8 837.6 1017.4 837.7 1021.0 842.3 1024.6 827.7 1025.2 826.7 1027.0 833.5 1028.2 841.2 1030.0 874.5 1033.6 1124.3 1034.8 1156.8 1036.0 1166.6 1037.2 1169.3 1039.6 1170.2 1097.6 1170.3"/>
<path d="M205.0 1170.3 965.8 1170.3 972.4 1170.2 975.4 1169.7 976.6 1169.0 977.8 1167.4 979.6 1160.8 980.8 1149.7 982.0 1127.5 983.8 1059.0 986.8 894.5 988.6 841.3 989.8 825.5 991.0 817.9 992.8 814.0 995.2 813.1 1010.2 817.0 1027.6 822.8 1042.0 840.0 1055.8 862.1 1065.4 881.5 1068.4 889.3 1070.8 899.0 1072.6 910.1 1075.0 937.5 1076.8 975.2 1081.0 1103.1 1082.2 1128.8 1084.0 1151.9 1085.8 1162.5 1087.0 1166.0 1088.2 1167.9 1091.2 1169.8 1097.6 1170.3"/>
<path d="M205.0 1170.3 1030.0 1170.3 1036.0 1169.9 1037.2 1168.7 1037.8 1167.3 1039.0 1159.3 1040.2 1132.3 1043.2 922.9 1044.4 880.4 1045.6 867.2 1046.8 863.4 1048.6 862.5 1050.4 865.4 1055.8 877.8 1057.0 884.6 1057.6 893.0 1059.4 954.8 1061.8 1118.5 1063.0 1154.4 1064.2 1165.9 1065.4 1169.1 1067.2 1170.1 1097.6 1170.3"/>
<path d="M205.0 1170.3 1039.5 1170.2 1040.5 1169.8 1041.5 1168.0 1042.5 1162.6 1044.0 1136.5 1047.5 965.5 1048.5 946.4 1049.5 967.6 1052.5 1121.9 1053.5 1149.7 1055.0 1166.3 1056.0 1169.2 1058.0 1170.3 1097.6 1170.3"/>
<path d="M205.0 1170.3 1046.0 1170.2 1047.0 1169.8 1048.0 1168.1 1049.0 1162.9 1050.5 1137.6 1054.0 972.2 1055.0 953.7 1056.0 974.2 1059.0 1123.7 1060.0 1150.5 1061.5 1166.5 1062.5 1169.3 1064.5 1170.3 1097.6 1170.3"/>
<path d="M205.0 1170.3 1042.0 1170.3 1048.0 1169.9 1049.2 1168.8 1050.4 1164.8 1051.6 1150.7 1052.8 1107.9 1055.8 911.5 1057.0 889.0 1057.6 885.0 1058.8 882.6 1060.0 883.0 1061.2 884.5 1064.8 895.2 1065.4 895.9 1067.8 896.3 1069.0 897.3 1073.8 919.2 1075.0 928.5 1076.8 975.4 1079.2 1119.9 1079.8 1141.6 1081.0 1162.1 1082.2 1168.1 1083.4 1169.7 1085.8 1170.3 1097.6 1170.3"/>
<path d="M1060.0 1170.3 1076.2 1169.9 1078.6 1168.2 1080.4 1163.6 1081.6 1156.1 1082.8 1141.9 1086.4 1060.1 1088.2 1029.7 1090.0 1015.0 1093.0 1004.3 1094.8 1000.1 1095.4 999.9 1102.6 1022.1 1103.2 1022.6 1111.6 993.2 1112.2 993.5 1118.2 1008.5 1124.8 971.7 1125.4 971.5 1129.0 980.5 1129.6 981.1 1138.0 963.3 1138.6 963.0 1141.0 964.1 1145.8 979.6 1149.4 972.4 1151.2 969.8 1152.4 973.7 1154.2 983.1 1156.6 1000.1 1158.4 1019.5 1165.6 1129.1 1167.4 1146.1 1169.8 1159.2 1172.2 1165.4 1174.0 1167.7 1175.8 1168.9 1180.6 1170.1 1192.0 1170.3"/>
<path d="M1159.0 1170.3 1167.4 1170.0 1169.2 1169.5 1171.0 1168.3 1173.4 1163.9 1175.2 1155.3 1177.6 1128.6 1181.8 1042.1 1184.2 1007.8 1186.6 990.5 1187.8 993.2 1189.6 1000.6 1190.2 1000.1 1194.4 953.1 1198.6 965.5 1199.2 966.3 1202.8 968.1 1203.4 967.6 1210.0 946.2 1218.4 944.1 1222.6 941.0 1223.2 941.3 1227.4 952.9 1231.6 936.0 1232.2 936.1 1238.2 950.2 1243.0 936.2 1251.4 933.1 1255.6 938.0 1256.2 938.1 1260.4 929.7 1267.0 933.0 1271.8 933.1 1277.2 941.3 1279.0 940.0 1280.2 939.8 1282.0 945.9 1284.4 962.0 1286.2 984.3 1292.2 1119.2 1293.4 1137.6 1295.2 1154.6 1297.0 1163.1 1298.2 1166.1 1300.0 1168.4 1301.8 1169.5 1304.2 1170.0 1316.0 1170.3"/>
<path d="M1289.0 1169.2 1290.8 1167.8 1292.0 1166.0 1293.8 1160.7 1295.6 1149.8 1296.8 1137.1 1298.6 1107.2 1304.0 986.3 1306.4 954.8 1308.8 936.5 1309.4 935.6 1311.2 935.7 1315.4 939.7 1324.4 927.5 1332.8 929.6 1340.6 932.9 1346.6 923.1 1352.6 922.1 1359.2 918.3 1359.8 918.9 1362.2 925.3 1364.6 934.6 1366.4 946.3 1367.6 959.9 1369.4 993.4 1374.2 1121.8 1375.4 1141.0 1377.2 1157.4 1379.0 1164.9 1380.2 1167.3 1382.0 1169.1 1386.2 1170.1 1397.0 1170.3"/>
<path d="M1377.0 1141.6 1380.6 1003.3 1381.8 977.9 1383.0 966.8 1384.2 963.7 1385.4 963.1 1387.8 963.7 1390.2 962.5 1391.4 962.9 1392.6 966.1 1393.2 970.5 1394.4 988.2 1398.0 1127.9 1399.8 1160.4 1401.0 1166.9 1402.8 1169.6 1405.8 1170.3 1420.0 1170.3"/>
<path d="M1397.0 1111.1 1401.2 991.9 1403.0 970.4 1404.2 964.0 1405.4 960.7 1407.2 958.4 1410.8 956.8 1421.0 964.6 1421.6 964.5 1428.2 957.8 1439.6 957.8 1452.2 970.2 1458.8 970.3 1461.8 971.3 1463.6 974.9 1465.4 981.3 1467.2 993.1 1468.4 1005.9 1474.4 1121.2 1476.8 1150.5 1478.6 1161.0 1480.4 1166.1 1482.8 1168.9 1486.0 1170.0"/>
<path d="M1430.0 1170.2 1436.6 1169.2 1440.2 1166.7 1442.0 1163.9 1443.2 1160.9 1445.6 1150.7 1447.4 1137.4 1449.2 1118.0 1455.8 1025.3 1458.2 1003.8 1460.6 991.2 1462.4 985.5 1466.6 975.7 1475.6 959.1 1489.4 945.2 1496.0 947.3 1496.6 947.9 1503.2 964.3 1510.4 972.7 1516.4 967.1 1519.4 965.1 1521.2 967.3 1522.4 970.3 1524.8 983.2 1526.6 1004.8 1532.0 1125.2 1533.2 1142.8 1535.0 1158.1 1536.8 1165.2 1538.0 1167.5 1539.8 1169.1 1544.0 1170.2 1554.0 1170.3"/>
<path d="M1492.0 1170.3 1524.4 1170.0 1527.4 1168.5 1529.2 1164.9 1531.0 1154.6 1532.8 1128.5 1537.0 1008.1 1538.8 978.9 1540.0 969.5 1541.8 963.1 1544.2 960.1 1549.6 957.8 1563.4 963.6 1572.4 962.0 1573.0 962.3 1575.4 967.0 1578.4 974.4 1582.0 988.7 1585.0 1010.6 1587.4 1038.2 1593.4 1125.2 1595.2 1142.5 1597.6 1156.7 1598.8 1160.9 1600.6 1165.0 1602.4 1167.4 1604.2 1168.7 1609.6 1170.0 1623.0 1170.3"/>
<path d="M1541.0 1170.3 1554.2 1170.0 1559.6 1168.8 1561.4 1167.6 1563.2 1165.4 1565.0 1161.5 1566.2 1157.5 1568.6 1144.0 1570.4 1127.4 1578.2 1019.3 1580.0 1003.8 1582.4 993.7 1584.8 989.6 1587.2 988.6 1590.2 989.3 1595.6 992.4 1596.2 992.3 1609.4 977.9 1610.0 977.8 1620.2 994.8 1628.6 981.0 1637.0 981.1 1637.6 981.2 1640.6 984.0 1644.2 988.3 1646.0 991.6 1647.8 996.8 1650.2 1010.1 1652.0 1029.0 1656.8 1116.6 1658.6 1141.7 1660.4 1156.4 1662.8 1165.4 1665.2 1168.6 1668.8 1170.0 1697.0 1170.3"/>
<path d="M1623.0 1170.3 1651.2 1169.9 1653.0 1169.4 1654.8 1168.2 1657.2 1163.5 1659.0 1154.8 1660.8 1137.8 1665.0 1071.8 1666.8 1050.8 1668.0 1041.7 1669.8 1033.1 1671.0 1031.8 1672.2 1031.5 1675.8 1033.0 1683.6 1038.7 1695.6 1055.7 1704.6 1075.8 1711.8 1095.0 1734.6 1147.5 1741.8 1152.3 1755.0 1165.5 1756.6 1166.0"/>
</g>
<path d="M1080.3 1189.5V793.4" stroke="#000" stroke-width="6.25" stroke-dasharray="23.1 10" fill="none"/>
</g>
<g fill="none" stroke="#000" stroke-width="3.33" stroke-linecap="butt">
<rect x="212.4" y="2.3" width="1601.4" height="791.1" stroke-linejoin="miter"/>
<rect x="212.4" y="793.4" width="1601.4" height="396.1" stroke-linejoin="miter"/>
</g>
<path d="M197.8 140.5H212.4M197.8 338.3H212.4M197.8 536.1H212.4M197.8 733.9H212.4M197.8 1170.3H212.4M197.8 1018.8H212.4M197.8 867.4H212.4M473.7 1189.5V1204.1M1341.6 1189.5V1204.1" stroke="#000" stroke-width="3.33" fill="none"/>
<path d="M204.1 793.4H212.4M204.1 777.7H212.4M204.1 764.5H212.4M204.1 753H212.4M204.1 742.9H212.4M204.1 674.3H212.4M204.1 639.5H212.4M204.1 614.8H212.4M204.1 595.6H212.4M204.1 580H212.4M204.1 566.7H212.4M204.1 555.3H212.4M204.1 545.1H212.4M204.1 476.6H212.4M204.1 441.7H212.4M204.1 417H212.4M204.1 397.9H212.4M204.1 382.2H212.4M204.1 368.9H212.4M204.1 357.5H212.4M204.1 347.4H212.4M204.1 278.8H212.4M204.1 244H212.4M204.1 219.2H212.4M204.1 200.1H212.4M204.1 184.4H212.4M204.1 171.2H212.4M204.1 159.7H212.4M204.1 149.6H212.4M204.1 81H212.4M204.1 46.2H212.4M204.1 21.5H212.4M204.1 2.3H212.4M212.4 1189.5V1197.8M281.1 1189.5V1197.8M339.2 1189.5V1197.8M389.6 1189.5V1197.8M434 1189.5V1197.8M734.9 1189.5V1197.8M887.8 1189.5V1197.8M996.2 1189.5V1197.8M1080.3 1189.5V1197.8M1149 1189.5V1197.8M1207.1 1189.5V1197.8M1257.5 1189.5V1197.8M1301.9 1189.5V1197.8M1602.9 1189.5V1197.8M1755.7 1189.5V1197.8" stroke="#000" stroke-width="2.5" fill="none"/>
<g font-family="Liberation Serif, serif" fill="#000">
<text transform="translate(98.5,158.9) scale(1.0749,1)" font-size="57.1">10</text>
<text transform="translate(162.5,141.4) scale(1.0834,1)" font-size="39.4">0</text>
<text transform="translate(71.2,356.7) scale(1.0809,1)" font-size="57.1">10</text>
<rect x="138.3" y="327.2" width="22.7" height="2.9"/>
<text transform="translate(164.5,338.9) scale(0.9376,1)" font-size="41.2">1</text>
<text transform="translate(71.2,554.4) scale(1.0809,1)" font-size="57.1">10</text>
<rect x="138.3" y="525" width="22.7" height="2.9"/>
<text transform="translate(163.7,536.7) scale(0.9716,1)" font-size="41.1">2</text>
<text transform="translate(71.2,752.2) scale(1.0809,1)" font-size="57.1">10</text>
<rect x="138.3" y="722.8" width="22.7" height="2.9"/>
<text transform="translate(163.6,734.1) scale(0.9568,1)" font-size="40.5">3</text>
<text transform="translate(71.5,1188.5) scale(1.1087,1)" font-size="56.1">0.00</text>
<text transform="translate(71.5,1037.1) scale(1.1093,1)" font-size="56.1">0.25</text>
<text transform="translate(71.5,885.6) scale(1.1087,1)" font-size="56.1">0.50</text>
<text transform="translate(431.2,1255.8) scale(1.0765,1)" font-size="57.5">10</text>
<text transform="translate(495.3,1237.9) scale(1.0916,1)" font-size="39.1">0</text>
<text transform="translate(1300.2,1255.8) scale(1.0765,1)" font-size="57.5">10</text>
<text transform="translate(1364.3,1238) scale(0.9445,1)" font-size="40.9">1</text>
<text transform="translate(735.2,1323) scale(1.0769,1)" font-size="57.4">Wavelength (microns)</text>
<text transform="translate(38.6,731.9) rotate(-90) scale(1.0621,1)" font-size="57.4">log Normalized Flux (mJy)</text>
<text transform="translate(42.9,1142.2) rotate(-90) scale(1.1036,1)" font-size="57.4">Throughput</text>
</g>
</svg>
</body></html>
